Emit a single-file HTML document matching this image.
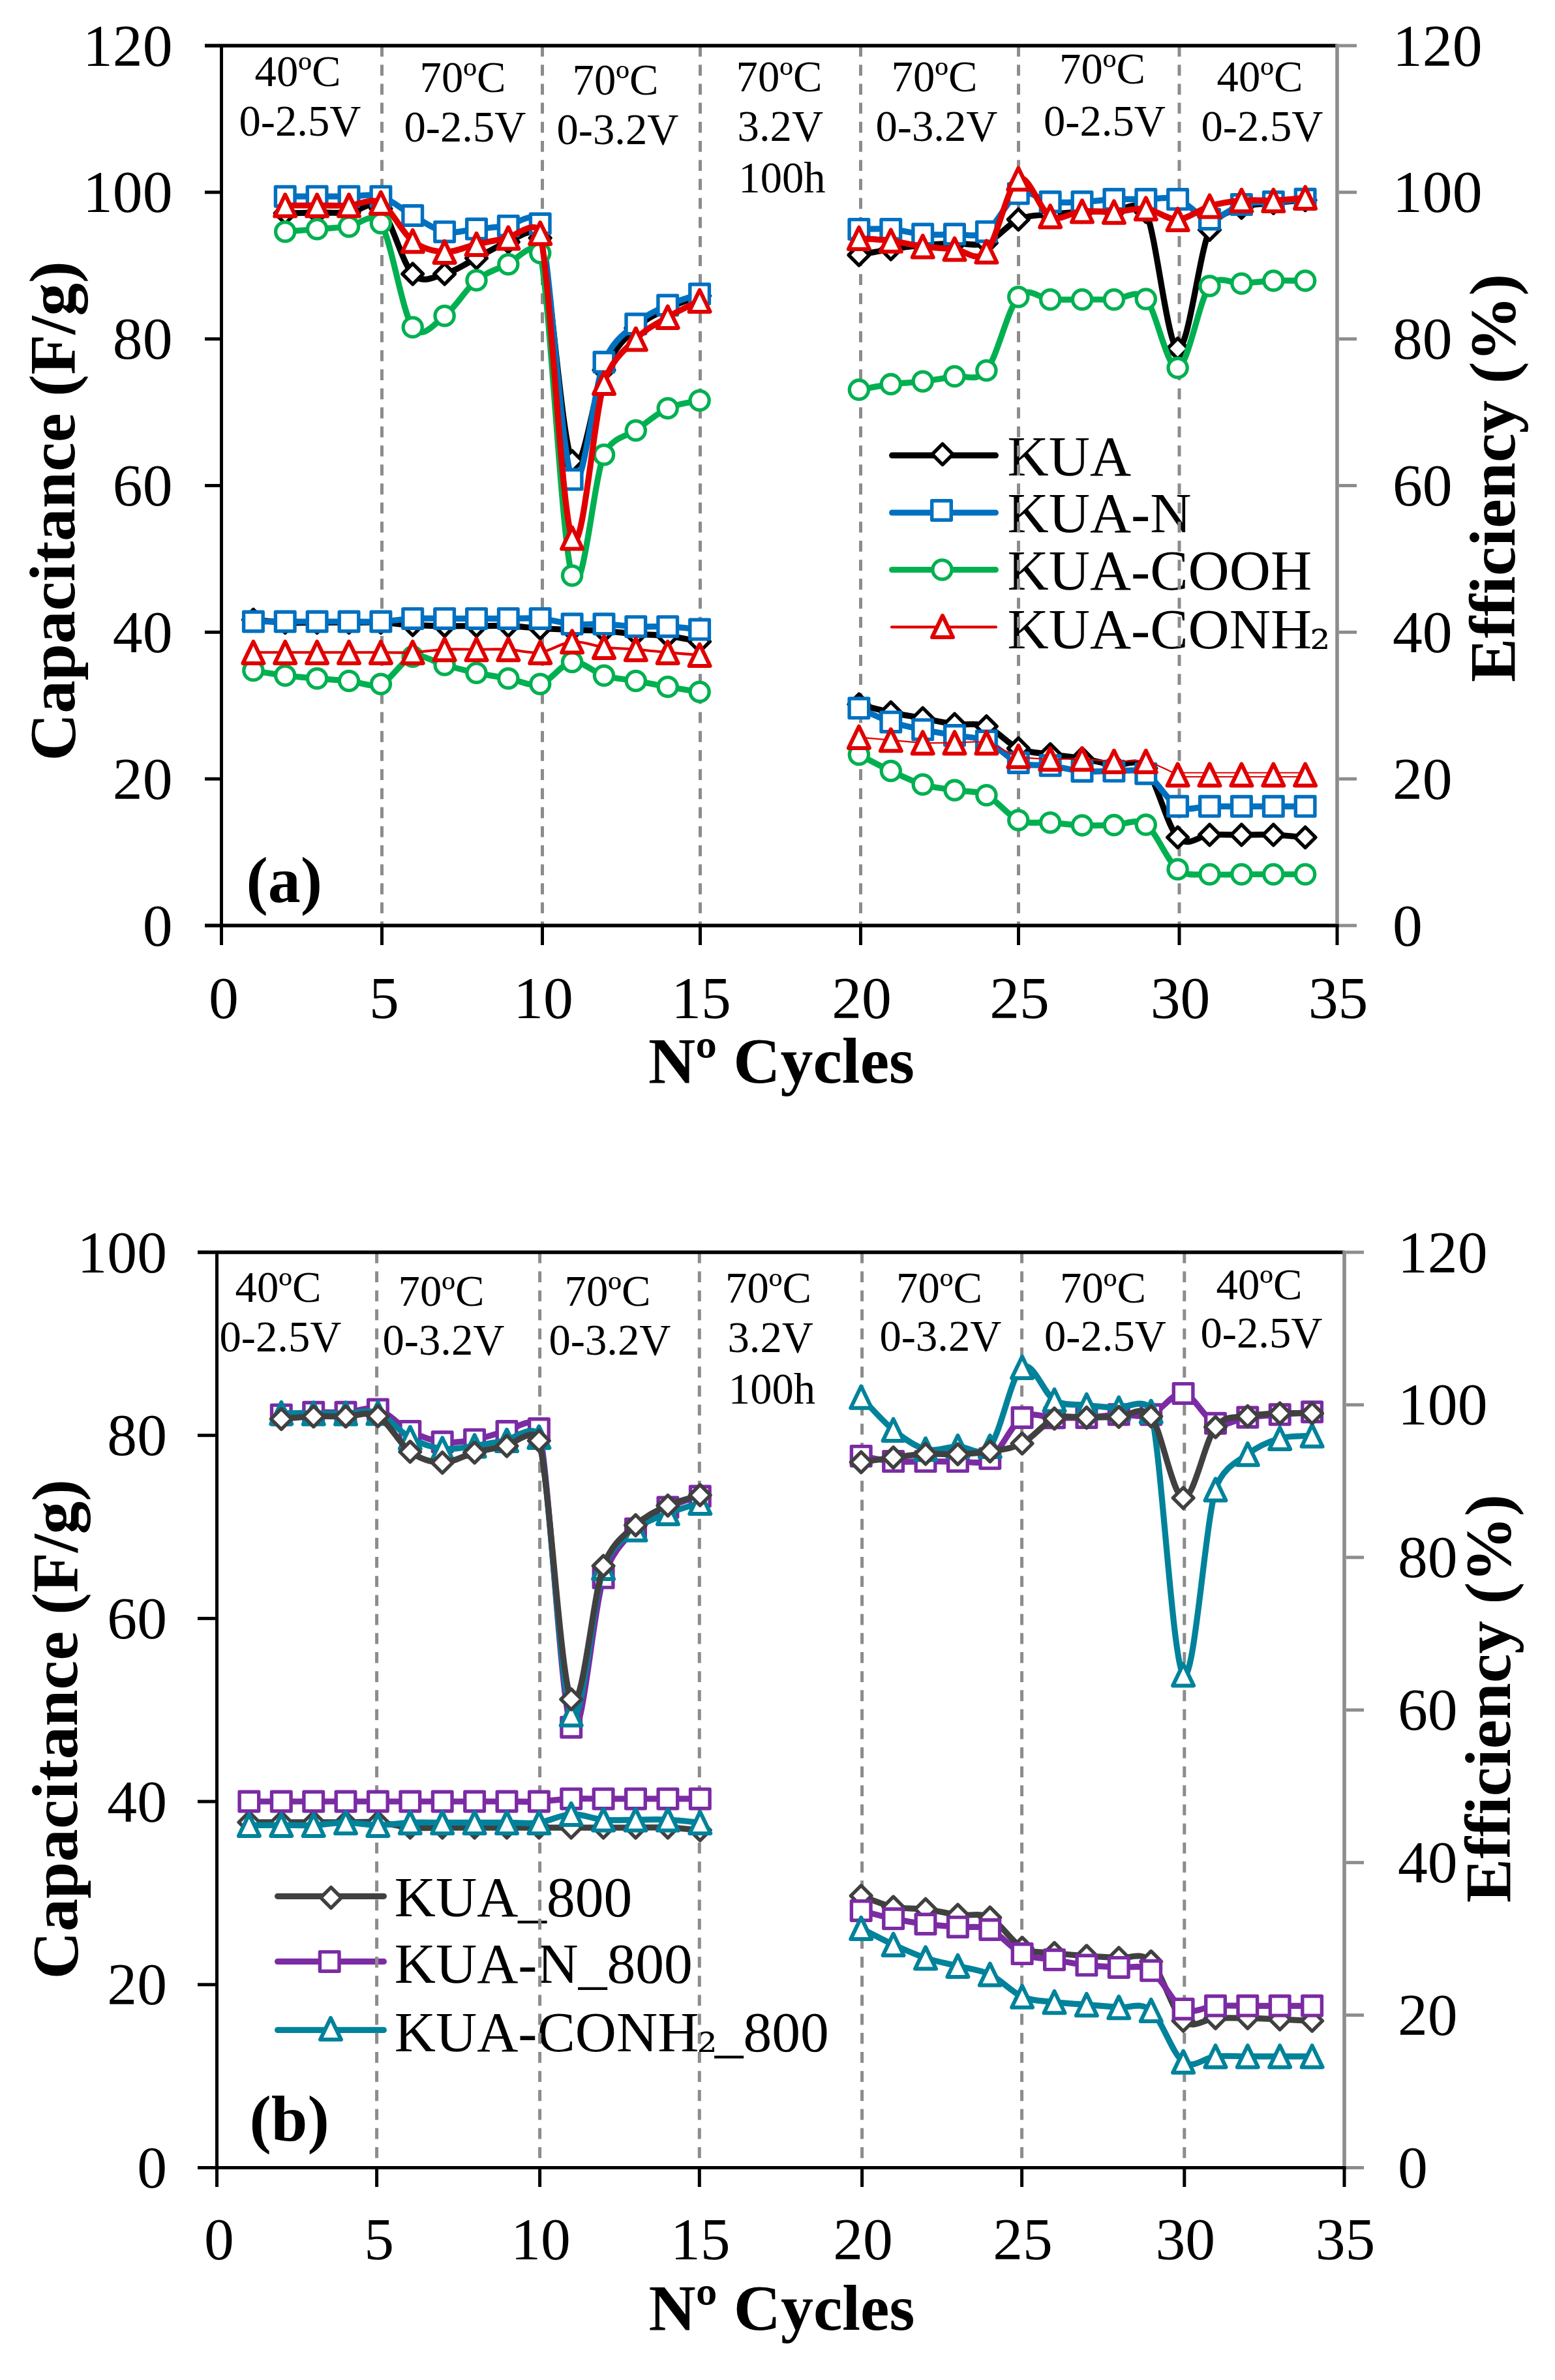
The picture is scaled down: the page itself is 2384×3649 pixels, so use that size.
<!DOCTYPE html>
<html lang="en"><head><meta charset="utf-8"><title>Capacitance and efficiency vs cycles</title>
<style>html,body{margin:0;padding:0;background:#fff}svg{display:block}text{font-family:'Liberation Serif', 'Times New Roman', serif;fill:#000}</style>
</head><body>
<svg width="2384" height="3649" viewBox="0 0 2384 3649">
<rect width="2384" height="3649" fill="#fff"/>
<g id="legend-a">
<path d="M1367.6 698.2H1526.4" stroke="#000000" stroke-width="9.2" stroke-linecap="round" fill="none"/>
<path d="M1445.0 680.7L1460.8 696.5L1445.0 712.3L1429.2 696.5Z" fill="#fff" stroke="#000000" stroke-width="5.4" stroke-linejoin="round"/>
<text x="1544.5" y="729.0" font-size="87.50" text-anchor="start">KUA</text>
<path d="M1367.6 786.0H1526.4" stroke="#0070c0" stroke-width="9.2" stroke-linecap="round" fill="none"/>
<rect x="1428.7" y="767.7" width="29.6" height="29.6" fill="#fff" stroke="#0070c0" stroke-width="5.4" stroke-linejoin="round"/>
<text x="1544.5" y="816.0" font-size="87.50" text-anchor="start">KUA-N</text>
<path d="M1367.6 873.5H1526.4" stroke="#00b050" stroke-width="9.2" stroke-linecap="round" fill="none"/>
<circle cx="1444.5" cy="873.5" r="14.6" fill="#fff" stroke="#00b050" stroke-width="5.3"/>
<text x="1544.5" y="903.6" font-size="87.50" text-anchor="start">KUA-COOH</text>
<path d="M1367.0 961.4H1527.0" stroke="#e00000" stroke-width="4.1" stroke-linecap="round" fill="none"/>
<path d="M1445.0 943.9L1461.0 977.1L1429.0 977.1Z" fill="#fff" stroke="#e00000" stroke-width="6" stroke-linejoin="round"/>
<text x="1544.5" y="994.2" font-size="87.50" text-anchor="start">KUA-CONH<tspan font-family="DejaVu Serif, serif" font-size="78" dy="1" dx="-3">₂</tspan></text>
</g>
<g stroke="#8c8c8c" stroke-width="5" stroke-dasharray="16.8 12.39" fill="none">
<path d="M585.5 70.0V1419.0"/>
<path d="M831.5 70.0V1419.0"/>
<path d="M1073.5 70.0V1419.0"/>
<path d="M1319.5 70.0V1419.0"/>
<path d="M1561.5 70.0V1419.0"/>
<path d="M1808.0 70.0V1419.0"/>
</g>
<g stroke="#000" stroke-width="5.6" fill="none">
<path d="M314.0 70.0H2050.0"/>
</g>
<path d="M314.0 1419.0H2052.8" stroke="#000" stroke-width="5.6" fill="none"/>
<g stroke="#000" stroke-width="5" fill="none">
<path d="M339.5 70.0V1449.0"/>
<path d="M585.5 1419.0V1449.0"/>
<path d="M831.5 1419.0V1449.0"/>
<path d="M1073.5 1419.0V1449.0"/>
<path d="M1319.5 1419.0V1449.0"/>
<path d="M1561.5 1419.0V1449.0"/>
<path d="M1808.0 1419.0V1449.0"/>
<path d="M2050.0 1419.0V1449.0"/>
<path d="M314.0 1194.2H339.5"/>
<path d="M314.0 969.3H339.5"/>
<path d="M314.0 744.5H339.5"/>
<path d="M314.0 519.7H339.5"/>
<path d="M314.0 294.8H339.5"/>
</g>
<g stroke="#8c8c8c" stroke-width="5.6" fill="none">
<path d="M2050.0 67.2V1416.2"/>
</g>
<g stroke="#8c8c8c" stroke-width="5" fill="none">
<path d="M2052.8 1419.0H2080.0"/>
<path d="M2052.8 1194.2H2080.0"/>
<path d="M2052.8 969.3H2080.0"/>
<path d="M2052.8 744.5H2080.0"/>
<path d="M2052.8 519.7H2080.0"/>
<path d="M2052.8 294.8H2080.0"/>
<path d="M2052.8 70.0H2080.0"/>
</g>
<text x="264.5" y="1449.5" font-size="91.67" text-anchor="end">0</text>
<text x="264.5" y="1224.7" font-size="91.67" text-anchor="end">20</text>
<text x="264.5" y="999.8" font-size="91.67" text-anchor="end">40</text>
<text x="264.5" y="775.0" font-size="91.67" text-anchor="end">60</text>
<text x="264.5" y="550.2" font-size="91.67" text-anchor="end">80</text>
<text x="264.5" y="325.3" font-size="91.67" text-anchor="end">100</text>
<text x="264.5" y="100.5" font-size="91.67" text-anchor="end">120</text>
<text x="2135.0" y="1449.5" font-size="91.67" text-anchor="start">0</text>
<text x="2135.0" y="1224.7" font-size="91.67" text-anchor="start">20</text>
<text x="2135.0" y="999.8" font-size="91.67" text-anchor="start">40</text>
<text x="2135.0" y="775.0" font-size="91.67" text-anchor="start">60</text>
<text x="2135.0" y="550.2" font-size="91.67" text-anchor="start">80</text>
<text x="2135.0" y="325.3" font-size="91.67" text-anchor="start">100</text>
<text x="2135.0" y="100.5" font-size="91.67" text-anchor="start">120</text>
<text x="343.0" y="1561.0" font-size="91.67" text-anchor="middle">0</text>
<text x="589.0" y="1561.0" font-size="91.67" text-anchor="middle">5</text>
<text x="833.0" y="1561.0" font-size="91.67" text-anchor="middle">10</text>
<text x="1075.0" y="1561.0" font-size="91.67" text-anchor="middle">15</text>
<text x="1321.0" y="1561.0" font-size="91.67" text-anchor="middle">20</text>
<text x="1563.0" y="1561.0" font-size="91.67" text-anchor="middle">25</text>
<text x="1809.5" y="1561.0" font-size="91.67" text-anchor="middle">30</text>
<text x="2051.5" y="1561.0" font-size="91.67" text-anchor="middle">35</text>
<g id="series-a">
<path d="M388.4 950.2C396.5 950.9 421.0 953.8 437.2 954.5C453.5 955.2 469.8 954.5 486.1 954.5C502.4 954.5 518.7 954.5 535.0 954.5C551.3 954.5 567.6 953.9 583.9 954.5C600.1 955.1 616.4 957.5 632.7 958.4C649.0 959.3 665.3 959.5 681.6 959.7C697.9 959.9 714.2 959.7 730.5 959.7C746.8 959.7 763.1 959.1 779.3 959.7C795.6 960.3 811.9 962.5 828.2 963.5C844.5 964.5 860.8 965.0 877.1 965.6C893.4 966.2 909.7 966.3 926.0 967.4C942.2 968.5 958.5 970.7 974.8 972.0C991.1 973.3 1007.4 973.1 1023.7 975.0C1040.0 976.9 1064.4 982.2 1072.6 983.6" fill="none" stroke="#000000" stroke-width="9.2" stroke-linecap="round" stroke-linejoin="round"/>
<path d="M1316.9 1079.9C1325.1 1082.0 1349.5 1088.7 1365.8 1092.2C1382.1 1095.8 1398.4 1098.2 1414.7 1101.2C1431.0 1104.2 1447.3 1108.1 1463.5 1110.2C1479.8 1112.3 1496.1 1107.4 1512.4 1113.6C1528.7 1119.8 1545.0 1140.3 1561.3 1147.5C1577.6 1154.7 1593.9 1154.0 1610.2 1156.5C1626.4 1159.0 1642.7 1160.0 1659.0 1162.8C1675.3 1165.5 1691.6 1170.5 1707.9 1173.0C1724.1 1175.5 1740.5 1159.6 1756.8 1178.0C1773.1 1196.5 1789.4 1266.9 1805.6 1283.9C1821.9 1300.9 1838.2 1280.7 1854.5 1280.0C1870.8 1279.3 1887.1 1280.0 1903.4 1280.0C1919.7 1280.0 1936.0 1279.3 1952.3 1280.0C1968.5 1280.7 1993.0 1283.2 2001.1 1283.9" fill="none" stroke="#000000" stroke-width="9.2" stroke-linecap="round" stroke-linejoin="round"/>
<path d="M388.4 934.4L404.2 950.2L388.4 966.0L372.6 950.2Z" fill="#fff" stroke="#000000" stroke-width="5.4" stroke-linejoin="round"/>
<path d="M437.2 938.7L453.0 954.5L437.2 970.3L421.4 954.5Z" fill="#fff" stroke="#000000" stroke-width="5.4" stroke-linejoin="round"/>
<path d="M486.1 938.7L501.9 954.5L486.1 970.3L470.3 954.5Z" fill="#fff" stroke="#000000" stroke-width="5.4" stroke-linejoin="round"/>
<path d="M535.0 938.7L550.8 954.5L535.0 970.3L519.2 954.5Z" fill="#fff" stroke="#000000" stroke-width="5.4" stroke-linejoin="round"/>
<path d="M583.9 938.7L599.7 954.5L583.9 970.3L568.1 954.5Z" fill="#fff" stroke="#000000" stroke-width="5.4" stroke-linejoin="round"/>
<path d="M632.7 942.6L648.5 958.4L632.7 974.2L616.9 958.4Z" fill="#fff" stroke="#000000" stroke-width="5.4" stroke-linejoin="round"/>
<path d="M681.6 943.9L697.4 959.7L681.6 975.5L665.8 959.7Z" fill="#fff" stroke="#000000" stroke-width="5.4" stroke-linejoin="round"/>
<path d="M730.5 943.9L746.3 959.7L730.5 975.5L714.7 959.7Z" fill="#fff" stroke="#000000" stroke-width="5.4" stroke-linejoin="round"/>
<path d="M779.3 943.9L795.1 959.7L779.3 975.5L763.5 959.7Z" fill="#fff" stroke="#000000" stroke-width="5.4" stroke-linejoin="round"/>
<path d="M828.2 947.7L844.0 963.5L828.2 979.3L812.4 963.5Z" fill="#fff" stroke="#000000" stroke-width="5.4" stroke-linejoin="round"/>
<path d="M877.1 949.8L892.9 965.6L877.1 981.4L861.3 965.6Z" fill="#fff" stroke="#000000" stroke-width="5.4" stroke-linejoin="round"/>
<path d="M926.0 951.6L941.8 967.4L926.0 983.2L910.2 967.4Z" fill="#fff" stroke="#000000" stroke-width="5.4" stroke-linejoin="round"/>
<path d="M974.8 956.2L990.6 972.0L974.8 987.8L959.0 972.0Z" fill="#fff" stroke="#000000" stroke-width="5.4" stroke-linejoin="round"/>
<path d="M1023.7 959.2L1039.5 975.0L1023.7 990.8L1007.9 975.0Z" fill="#fff" stroke="#000000" stroke-width="5.4" stroke-linejoin="round"/>
<path d="M1072.6 967.8L1088.4 983.6L1072.6 999.4L1056.8 983.6Z" fill="#fff" stroke="#000000" stroke-width="5.4" stroke-linejoin="round"/>
<path d="M1316.9 1064.1L1332.7 1079.9L1316.9 1095.7L1301.1 1079.9Z" fill="#fff" stroke="#000000" stroke-width="5.4" stroke-linejoin="round"/>
<path d="M1365.8 1076.4L1381.6 1092.2L1365.8 1108.0L1350.0 1092.2Z" fill="#fff" stroke="#000000" stroke-width="5.4" stroke-linejoin="round"/>
<path d="M1414.7 1085.4L1430.5 1101.2L1414.7 1117.0L1398.9 1101.2Z" fill="#fff" stroke="#000000" stroke-width="5.4" stroke-linejoin="round"/>
<path d="M1463.5 1094.4L1479.3 1110.2L1463.5 1126.0L1447.7 1110.2Z" fill="#fff" stroke="#000000" stroke-width="5.4" stroke-linejoin="round"/>
<path d="M1512.4 1097.8L1528.2 1113.6L1512.4 1129.4L1496.6 1113.6Z" fill="#fff" stroke="#000000" stroke-width="5.4" stroke-linejoin="round"/>
<path d="M1561.3 1131.7L1577.1 1147.5L1561.3 1163.3L1545.5 1147.5Z" fill="#fff" stroke="#000000" stroke-width="5.4" stroke-linejoin="round"/>
<path d="M1610.2 1140.7L1626.0 1156.5L1610.2 1172.3L1594.4 1156.5Z" fill="#fff" stroke="#000000" stroke-width="5.4" stroke-linejoin="round"/>
<path d="M1659.0 1147.0L1674.8 1162.8L1659.0 1178.6L1643.2 1162.8Z" fill="#fff" stroke="#000000" stroke-width="5.4" stroke-linejoin="round"/>
<path d="M1707.9 1157.2L1723.7 1173.0L1707.9 1188.8L1692.1 1173.0Z" fill="#fff" stroke="#000000" stroke-width="5.4" stroke-linejoin="round"/>
<path d="M1756.8 1162.2L1772.6 1178.0L1756.8 1193.8L1741.0 1178.0Z" fill="#fff" stroke="#000000" stroke-width="5.4" stroke-linejoin="round"/>
<path d="M1805.6 1268.1L1821.4 1283.9L1805.6 1299.7L1789.8 1283.9Z" fill="#fff" stroke="#000000" stroke-width="5.4" stroke-linejoin="round"/>
<path d="M1854.5 1264.2L1870.3 1280.0L1854.5 1295.8L1838.7 1280.0Z" fill="#fff" stroke="#000000" stroke-width="5.4" stroke-linejoin="round"/>
<path d="M1903.4 1264.2L1919.2 1280.0L1903.4 1295.8L1887.6 1280.0Z" fill="#fff" stroke="#000000" stroke-width="5.4" stroke-linejoin="round"/>
<path d="M1952.3 1264.2L1968.1 1280.0L1952.3 1295.8L1936.5 1280.0Z" fill="#fff" stroke="#000000" stroke-width="5.4" stroke-linejoin="round"/>
<path d="M2001.1 1268.1L2016.9 1283.9L2001.1 1299.7L1985.3 1283.9Z" fill="#fff" stroke="#000000" stroke-width="5.4" stroke-linejoin="round"/>
<path d="M437.2 327.0C445.4 326.8 469.8 326.2 486.1 326.0C502.4 325.8 518.7 327.0 535.0 326.0C551.3 325.0 567.6 304.3 583.9 320.0C600.1 335.7 616.4 403.3 632.7 420.0C649.0 436.7 665.3 424.0 681.6 420.0C697.9 416.0 714.2 404.0 730.5 395.8C746.8 387.6 763.1 376.1 779.3 371.0C786.2 368.8 821.3 341.3 828.2 364.9C844.5 420.9 860.8 673.2 877.1 707.0C893.4 740.8 909.7 601.4 926.0 567.4C942.2 533.4 958.5 518.7 974.8 503.0C991.1 487.3 1007.4 481.2 1023.7 473.0C1040.0 464.8 1064.4 456.8 1072.6 453.6" fill="none" stroke="#000000" stroke-width="9.2" stroke-linecap="round" stroke-linejoin="round"/>
<path d="M1316.9 391.0C1325.1 389.5 1349.5 384.5 1365.8 382.0C1382.1 379.5 1398.4 377.5 1414.7 376.0C1431.0 374.5 1447.3 373.6 1463.5 373.0C1479.8 372.4 1496.1 378.6 1512.4 372.5C1528.7 366.4 1545.0 343.8 1561.3 336.5C1577.6 329.2 1593.9 330.6 1610.2 328.7C1626.4 326.8 1642.7 325.7 1659.0 324.9C1675.3 324.1 1691.6 324.0 1707.9 324.0C1718.2 324.0 1746.5 302.7 1756.8 324.9C1773.1 360.0 1789.4 529.9 1805.6 534.5C1821.9 539.1 1838.2 388.4 1854.5 352.4C1866.8 325.3 1891.1 323.7 1903.4 318.5C1919.7 311.6 1936.0 313.2 1952.3 311.3C1968.5 309.4 1993.0 307.6 2001.1 306.9" fill="none" stroke="#000000" stroke-width="9.2" stroke-linecap="round" stroke-linejoin="round"/>
<path d="M437.2 311.2L453.0 327.0L437.2 342.8L421.4 327.0Z" fill="#fff" stroke="#000000" stroke-width="5.4" stroke-linejoin="round"/>
<path d="M486.1 310.2L501.9 326.0L486.1 341.8L470.3 326.0Z" fill="#fff" stroke="#000000" stroke-width="5.4" stroke-linejoin="round"/>
<path d="M535.0 310.2L550.8 326.0L535.0 341.8L519.2 326.0Z" fill="#fff" stroke="#000000" stroke-width="5.4" stroke-linejoin="round"/>
<path d="M583.9 304.2L599.7 320.0L583.9 335.8L568.1 320.0Z" fill="#fff" stroke="#000000" stroke-width="5.4" stroke-linejoin="round"/>
<path d="M632.7 404.2L648.5 420.0L632.7 435.8L616.9 420.0Z" fill="#fff" stroke="#000000" stroke-width="5.4" stroke-linejoin="round"/>
<path d="M681.6 404.2L697.4 420.0L681.6 435.8L665.8 420.0Z" fill="#fff" stroke="#000000" stroke-width="5.4" stroke-linejoin="round"/>
<path d="M730.5 380.0L746.3 395.8L730.5 411.6L714.7 395.8Z" fill="#fff" stroke="#000000" stroke-width="5.4" stroke-linejoin="round"/>
<path d="M779.3 355.2L795.1 371.0L779.3 386.8L763.5 371.0Z" fill="#fff" stroke="#000000" stroke-width="5.4" stroke-linejoin="round"/>
<path d="M828.2 349.1L844.0 364.9L828.2 380.7L812.4 364.9Z" fill="#fff" stroke="#000000" stroke-width="5.4" stroke-linejoin="round"/>
<path d="M877.1 691.2L892.9 707.0L877.1 722.8L861.3 707.0Z" fill="#fff" stroke="#000000" stroke-width="5.4" stroke-linejoin="round"/>
<path d="M926.0 551.6L941.8 567.4L926.0 583.2L910.2 567.4Z" fill="#fff" stroke="#000000" stroke-width="5.4" stroke-linejoin="round"/>
<path d="M974.8 487.2L990.6 503.0L974.8 518.8L959.0 503.0Z" fill="#fff" stroke="#000000" stroke-width="5.4" stroke-linejoin="round"/>
<path d="M1023.7 457.2L1039.5 473.0L1023.7 488.8L1007.9 473.0Z" fill="#fff" stroke="#000000" stroke-width="5.4" stroke-linejoin="round"/>
<path d="M1072.6 437.8L1088.4 453.6L1072.6 469.4L1056.8 453.6Z" fill="#fff" stroke="#000000" stroke-width="5.4" stroke-linejoin="round"/>
<path d="M1316.9 375.2L1332.7 391.0L1316.9 406.8L1301.1 391.0Z" fill="#fff" stroke="#000000" stroke-width="5.4" stroke-linejoin="round"/>
<path d="M1365.8 366.2L1381.6 382.0L1365.8 397.8L1350.0 382.0Z" fill="#fff" stroke="#000000" stroke-width="5.4" stroke-linejoin="round"/>
<path d="M1414.7 360.2L1430.5 376.0L1414.7 391.8L1398.9 376.0Z" fill="#fff" stroke="#000000" stroke-width="5.4" stroke-linejoin="round"/>
<path d="M1463.5 357.2L1479.3 373.0L1463.5 388.8L1447.7 373.0Z" fill="#fff" stroke="#000000" stroke-width="5.4" stroke-linejoin="round"/>
<path d="M1512.4 356.7L1528.2 372.5L1512.4 388.3L1496.6 372.5Z" fill="#fff" stroke="#000000" stroke-width="5.4" stroke-linejoin="round"/>
<path d="M1561.3 320.7L1577.1 336.5L1561.3 352.3L1545.5 336.5Z" fill="#fff" stroke="#000000" stroke-width="5.4" stroke-linejoin="round"/>
<path d="M1610.2 312.9L1626.0 328.7L1610.2 344.5L1594.4 328.7Z" fill="#fff" stroke="#000000" stroke-width="5.4" stroke-linejoin="round"/>
<path d="M1659.0 309.1L1674.8 324.9L1659.0 340.7L1643.2 324.9Z" fill="#fff" stroke="#000000" stroke-width="5.4" stroke-linejoin="round"/>
<path d="M1707.9 308.2L1723.7 324.0L1707.9 339.8L1692.1 324.0Z" fill="#fff" stroke="#000000" stroke-width="5.4" stroke-linejoin="round"/>
<path d="M1756.8 309.1L1772.6 324.9L1756.8 340.7L1741.0 324.9Z" fill="#fff" stroke="#000000" stroke-width="5.4" stroke-linejoin="round"/>
<path d="M1805.6 518.7L1821.4 534.5L1805.6 550.3L1789.8 534.5Z" fill="#fff" stroke="#000000" stroke-width="5.4" stroke-linejoin="round"/>
<path d="M1854.5 336.6L1870.3 352.4L1854.5 368.2L1838.7 352.4Z" fill="#fff" stroke="#000000" stroke-width="5.4" stroke-linejoin="round"/>
<path d="M1903.4 302.7L1919.2 318.5L1903.4 334.3L1887.6 318.5Z" fill="#fff" stroke="#000000" stroke-width="5.4" stroke-linejoin="round"/>
<path d="M1952.3 295.5L1968.1 311.3L1952.3 327.1L1936.5 311.3Z" fill="#fff" stroke="#000000" stroke-width="5.4" stroke-linejoin="round"/>
<path d="M2001.1 291.1L2016.9 306.9L2001.1 322.7L1985.3 306.9Z" fill="#fff" stroke="#000000" stroke-width="5.4" stroke-linejoin="round"/>
<path d="M388.4 953.0C396.5 953.0 421.0 953.0 437.2 953.0C453.5 953.0 469.8 953.0 486.1 953.0C502.4 953.0 518.7 953.0 535.0 953.0C551.3 953.0 567.6 953.8 583.9 953.0C600.1 952.2 616.4 949.2 632.7 948.4C649.0 947.6 665.3 948.4 681.6 948.4C697.9 948.4 714.2 948.4 730.5 948.4C746.8 948.4 763.1 948.4 779.3 948.4C795.6 948.4 811.9 947.0 828.2 948.4C844.5 949.8 860.8 955.4 877.1 956.8C893.4 958.2 909.7 956.1 926.0 956.8C942.2 957.4 958.5 960.1 974.8 960.7C991.1 961.4 1007.4 960.0 1023.7 960.7C1040.0 961.4 1064.4 964.4 1072.6 965.1" fill="none" stroke="#0070c0" stroke-width="9.2" stroke-linecap="round" stroke-linejoin="round"/>
<path d="M1316.9 1085.8C1325.1 1089.3 1349.5 1101.4 1365.8 1106.9C1382.1 1112.4 1398.4 1115.3 1414.7 1118.7C1431.0 1122.1 1447.3 1124.6 1463.5 1127.5C1479.8 1130.4 1496.1 1129.0 1512.4 1136.0C1528.7 1143.0 1545.0 1163.1 1561.3 1169.4C1577.6 1175.7 1593.9 1171.6 1610.2 1173.8C1626.4 1176.0 1642.7 1181.1 1659.0 1182.5C1675.3 1183.9 1691.6 1181.7 1707.9 1182.3C1724.2 1182.9 1740.5 1177.2 1756.8 1186.2C1773.1 1195.2 1789.4 1228.0 1805.6 1236.3C1821.9 1244.6 1838.2 1236.3 1854.5 1236.3C1870.8 1236.3 1887.1 1236.3 1903.4 1236.3C1919.7 1236.3 1936.0 1236.3 1952.3 1236.3C1968.5 1236.3 1993.0 1236.3 2001.1 1236.3" fill="none" stroke="#0070c0" stroke-width="9.2" stroke-linecap="round" stroke-linejoin="round"/>
<rect x="373.6" y="938.2" width="29.6" height="29.6" fill="#fff" stroke="#0070c0" stroke-width="5.4" stroke-linejoin="round"/>
<rect x="422.4" y="938.2" width="29.6" height="29.6" fill="#fff" stroke="#0070c0" stroke-width="5.4" stroke-linejoin="round"/>
<rect x="471.3" y="938.2" width="29.6" height="29.6" fill="#fff" stroke="#0070c0" stroke-width="5.4" stroke-linejoin="round"/>
<rect x="520.2" y="938.2" width="29.6" height="29.6" fill="#fff" stroke="#0070c0" stroke-width="5.4" stroke-linejoin="round"/>
<rect x="569.1" y="938.2" width="29.6" height="29.6" fill="#fff" stroke="#0070c0" stroke-width="5.4" stroke-linejoin="round"/>
<rect x="617.9" y="933.6" width="29.6" height="29.6" fill="#fff" stroke="#0070c0" stroke-width="5.4" stroke-linejoin="round"/>
<rect x="666.8" y="933.6" width="29.6" height="29.6" fill="#fff" stroke="#0070c0" stroke-width="5.4" stroke-linejoin="round"/>
<rect x="715.7" y="933.6" width="29.6" height="29.6" fill="#fff" stroke="#0070c0" stroke-width="5.4" stroke-linejoin="round"/>
<rect x="764.5" y="933.6" width="29.6" height="29.6" fill="#fff" stroke="#0070c0" stroke-width="5.4" stroke-linejoin="round"/>
<rect x="813.4" y="933.6" width="29.6" height="29.6" fill="#fff" stroke="#0070c0" stroke-width="5.4" stroke-linejoin="round"/>
<rect x="862.3" y="942.0" width="29.6" height="29.6" fill="#fff" stroke="#0070c0" stroke-width="5.4" stroke-linejoin="round"/>
<rect x="911.2" y="942.0" width="29.6" height="29.6" fill="#fff" stroke="#0070c0" stroke-width="5.4" stroke-linejoin="round"/>
<rect x="960.0" y="945.9" width="29.6" height="29.6" fill="#fff" stroke="#0070c0" stroke-width="5.4" stroke-linejoin="round"/>
<rect x="1008.9" y="945.9" width="29.6" height="29.6" fill="#fff" stroke="#0070c0" stroke-width="5.4" stroke-linejoin="round"/>
<rect x="1057.8" y="950.3" width="29.6" height="29.6" fill="#fff" stroke="#0070c0" stroke-width="5.4" stroke-linejoin="round"/>
<rect x="1302.1" y="1071.0" width="29.6" height="29.6" fill="#fff" stroke="#0070c0" stroke-width="5.4" stroke-linejoin="round"/>
<rect x="1351.0" y="1092.1" width="29.6" height="29.6" fill="#fff" stroke="#0070c0" stroke-width="5.4" stroke-linejoin="round"/>
<rect x="1399.9" y="1103.9" width="29.6" height="29.6" fill="#fff" stroke="#0070c0" stroke-width="5.4" stroke-linejoin="round"/>
<rect x="1448.7" y="1112.7" width="29.6" height="29.6" fill="#fff" stroke="#0070c0" stroke-width="5.4" stroke-linejoin="round"/>
<rect x="1497.6" y="1121.2" width="29.6" height="29.6" fill="#fff" stroke="#0070c0" stroke-width="5.4" stroke-linejoin="round"/>
<rect x="1546.5" y="1154.6" width="29.6" height="29.6" fill="#fff" stroke="#0070c0" stroke-width="5.4" stroke-linejoin="round"/>
<rect x="1595.4" y="1159.0" width="29.6" height="29.6" fill="#fff" stroke="#0070c0" stroke-width="5.4" stroke-linejoin="round"/>
<rect x="1644.2" y="1167.7" width="29.6" height="29.6" fill="#fff" stroke="#0070c0" stroke-width="5.4" stroke-linejoin="round"/>
<rect x="1693.1" y="1167.5" width="29.6" height="29.6" fill="#fff" stroke="#0070c0" stroke-width="5.4" stroke-linejoin="round"/>
<rect x="1742.0" y="1171.4" width="29.6" height="29.6" fill="#fff" stroke="#0070c0" stroke-width="5.4" stroke-linejoin="round"/>
<rect x="1790.8" y="1221.5" width="29.6" height="29.6" fill="#fff" stroke="#0070c0" stroke-width="5.4" stroke-linejoin="round"/>
<rect x="1839.7" y="1221.5" width="29.6" height="29.6" fill="#fff" stroke="#0070c0" stroke-width="5.4" stroke-linejoin="round"/>
<rect x="1888.6" y="1221.5" width="29.6" height="29.6" fill="#fff" stroke="#0070c0" stroke-width="5.4" stroke-linejoin="round"/>
<rect x="1937.5" y="1221.5" width="29.6" height="29.6" fill="#fff" stroke="#0070c0" stroke-width="5.4" stroke-linejoin="round"/>
<rect x="1986.3" y="1221.5" width="29.6" height="29.6" fill="#fff" stroke="#0070c0" stroke-width="5.4" stroke-linejoin="round"/>
<path d="M437.2 301.2C445.4 301.2 469.8 301.2 486.1 301.2C502.4 301.2 518.7 301.2 535.0 301.2C551.3 301.2 567.6 296.3 583.9 301.2C600.1 306.1 616.4 321.5 632.7 330.5C649.0 339.5 665.3 352.0 681.6 355.4C697.9 358.8 714.2 352.6 730.5 351.1C746.8 349.6 763.1 347.8 779.3 346.4C785.3 345.9 822.2 319.2 828.2 343.0C844.5 407.8 860.8 699.7 877.1 735.1C893.4 770.5 909.7 595.0 926.0 555.3C940.4 520.0 960.4 509.7 974.8 496.8C991.1 482.2 1007.4 475.7 1023.7 468.0C1040.0 460.3 1064.4 453.7 1072.6 450.8" fill="none" stroke="#0070c0" stroke-width="9.2" stroke-linecap="round" stroke-linejoin="round"/>
<path d="M1316.9 351.4C1325.1 351.4 1349.5 350.1 1365.8 351.4C1382.1 352.7 1398.4 357.8 1414.7 359.1C1431.0 360.4 1447.3 359.8 1463.5 359.1C1479.8 358.5 1496.1 365.6 1512.4 355.2C1528.7 344.8 1545.0 304.4 1561.3 296.8C1577.6 289.2 1593.9 307.4 1610.2 309.5C1626.4 311.6 1642.7 310.1 1659.0 309.5C1675.3 308.9 1691.6 306.2 1707.9 305.6C1724.2 305.0 1740.5 305.6 1756.8 305.6C1773.1 305.6 1789.4 300.5 1805.6 305.6C1821.9 310.7 1838.2 334.7 1854.5 336.0C1870.8 337.3 1887.1 318.0 1903.4 313.6C1919.7 309.2 1936.0 310.9 1952.3 309.5C1968.5 308.1 1993.0 306.0 2001.1 305.3" fill="none" stroke="#0070c0" stroke-width="9.2" stroke-linecap="round" stroke-linejoin="round"/>
<rect x="422.4" y="286.4" width="29.6" height="29.6" fill="#fff" stroke="#0070c0" stroke-width="5.4" stroke-linejoin="round"/>
<rect x="471.3" y="286.4" width="29.6" height="29.6" fill="#fff" stroke="#0070c0" stroke-width="5.4" stroke-linejoin="round"/>
<rect x="520.2" y="286.4" width="29.6" height="29.6" fill="#fff" stroke="#0070c0" stroke-width="5.4" stroke-linejoin="round"/>
<rect x="569.1" y="286.4" width="29.6" height="29.6" fill="#fff" stroke="#0070c0" stroke-width="5.4" stroke-linejoin="round"/>
<rect x="617.9" y="315.7" width="29.6" height="29.6" fill="#fff" stroke="#0070c0" stroke-width="5.4" stroke-linejoin="round"/>
<rect x="666.8" y="340.6" width="29.6" height="29.6" fill="#fff" stroke="#0070c0" stroke-width="5.4" stroke-linejoin="round"/>
<rect x="715.7" y="336.3" width="29.6" height="29.6" fill="#fff" stroke="#0070c0" stroke-width="5.4" stroke-linejoin="round"/>
<rect x="764.5" y="331.6" width="29.6" height="29.6" fill="#fff" stroke="#0070c0" stroke-width="5.4" stroke-linejoin="round"/>
<rect x="813.4" y="328.2" width="29.6" height="29.6" fill="#fff" stroke="#0070c0" stroke-width="5.4" stroke-linejoin="round"/>
<rect x="862.3" y="720.3" width="29.6" height="29.6" fill="#fff" stroke="#0070c0" stroke-width="5.4" stroke-linejoin="round"/>
<rect x="911.2" y="540.5" width="29.6" height="29.6" fill="#fff" stroke="#0070c0" stroke-width="5.4" stroke-linejoin="round"/>
<rect x="960.0" y="482.0" width="29.6" height="29.6" fill="#fff" stroke="#0070c0" stroke-width="5.4" stroke-linejoin="round"/>
<rect x="1008.9" y="453.2" width="29.6" height="29.6" fill="#fff" stroke="#0070c0" stroke-width="5.4" stroke-linejoin="round"/>
<rect x="1057.8" y="436.0" width="29.6" height="29.6" fill="#fff" stroke="#0070c0" stroke-width="5.4" stroke-linejoin="round"/>
<rect x="1302.1" y="336.6" width="29.6" height="29.6" fill="#fff" stroke="#0070c0" stroke-width="5.4" stroke-linejoin="round"/>
<rect x="1351.0" y="336.6" width="29.6" height="29.6" fill="#fff" stroke="#0070c0" stroke-width="5.4" stroke-linejoin="round"/>
<rect x="1399.9" y="344.3" width="29.6" height="29.6" fill="#fff" stroke="#0070c0" stroke-width="5.4" stroke-linejoin="round"/>
<rect x="1448.7" y="344.3" width="29.6" height="29.6" fill="#fff" stroke="#0070c0" stroke-width="5.4" stroke-linejoin="round"/>
<rect x="1497.6" y="340.4" width="29.6" height="29.6" fill="#fff" stroke="#0070c0" stroke-width="5.4" stroke-linejoin="round"/>
<rect x="1546.5" y="282.0" width="29.6" height="29.6" fill="#fff" stroke="#0070c0" stroke-width="5.4" stroke-linejoin="round"/>
<rect x="1595.4" y="294.7" width="29.6" height="29.6" fill="#fff" stroke="#0070c0" stroke-width="5.4" stroke-linejoin="round"/>
<rect x="1644.2" y="294.7" width="29.6" height="29.6" fill="#fff" stroke="#0070c0" stroke-width="5.4" stroke-linejoin="round"/>
<rect x="1693.1" y="290.8" width="29.6" height="29.6" fill="#fff" stroke="#0070c0" stroke-width="5.4" stroke-linejoin="round"/>
<rect x="1742.0" y="290.8" width="29.6" height="29.6" fill="#fff" stroke="#0070c0" stroke-width="5.4" stroke-linejoin="round"/>
<rect x="1790.8" y="290.8" width="29.6" height="29.6" fill="#fff" stroke="#0070c0" stroke-width="5.4" stroke-linejoin="round"/>
<rect x="1839.7" y="321.2" width="29.6" height="29.6" fill="#fff" stroke="#0070c0" stroke-width="5.4" stroke-linejoin="round"/>
<rect x="1888.6" y="298.8" width="29.6" height="29.6" fill="#fff" stroke="#0070c0" stroke-width="5.4" stroke-linejoin="round"/>
<rect x="1937.5" y="294.7" width="29.6" height="29.6" fill="#fff" stroke="#0070c0" stroke-width="5.4" stroke-linejoin="round"/>
<rect x="1986.3" y="290.5" width="29.6" height="29.6" fill="#fff" stroke="#0070c0" stroke-width="5.4" stroke-linejoin="round"/>
<path d="M388.4 1028.1C396.5 1029.4 421.0 1033.8 437.2 1035.8C453.5 1037.8 469.8 1038.8 486.1 1040.2C502.4 1041.6 518.7 1042.6 535.0 1044.0C551.3 1045.4 567.6 1054.9 583.9 1048.7C600.1 1042.5 616.4 1011.6 632.7 1006.8C649.0 1001.9 665.3 1015.5 681.6 1019.6C697.9 1023.8 714.2 1028.3 730.5 1031.7C746.8 1035.1 763.1 1037.4 779.3 1040.2C795.6 1043.0 811.9 1052.9 828.2 1048.7C844.5 1044.5 860.8 1017.1 877.1 1015.0C893.4 1012.9 909.7 1031.0 926.0 1035.8C942.2 1040.6 958.5 1041.1 974.8 1044.0C991.1 1046.9 1007.4 1050.2 1023.7 1053.0C1040.0 1055.8 1064.4 1059.5 1072.6 1060.8" fill="none" stroke="#00b050" stroke-width="9.2" stroke-linecap="round" stroke-linejoin="round"/>
<path d="M1316.9 1157.0C1325.1 1161.2 1349.5 1174.4 1365.8 1182.0C1382.1 1189.6 1398.4 1197.9 1414.7 1202.8C1431.0 1207.7 1447.3 1208.8 1463.5 1211.6C1479.8 1214.3 1496.1 1211.7 1512.4 1219.3C1528.7 1226.9 1545.0 1250.4 1561.3 1257.4C1577.6 1264.4 1593.9 1259.9 1610.2 1261.2C1626.4 1262.5 1642.7 1264.8 1659.0 1265.4C1675.3 1266.1 1691.6 1265.2 1707.9 1265.1C1724.2 1265.0 1740.5 1253.3 1756.8 1264.6C1773.1 1275.9 1789.4 1320.1 1805.6 1332.8C1821.9 1345.5 1838.2 1339.2 1854.5 1340.5C1870.8 1341.8 1887.1 1340.5 1903.4 1340.5C1919.7 1340.5 1936.0 1340.5 1952.3 1340.5C1968.5 1340.5 1993.0 1340.5 2001.1 1340.5" fill="none" stroke="#00b050" stroke-width="9.2" stroke-linecap="round" stroke-linejoin="round"/>
<circle cx="388.4" cy="1028.1" r="14.6" fill="#fff" stroke="#00b050" stroke-width="5.3"/>
<circle cx="437.2" cy="1035.8" r="14.6" fill="#fff" stroke="#00b050" stroke-width="5.3"/>
<circle cx="486.1" cy="1040.2" r="14.6" fill="#fff" stroke="#00b050" stroke-width="5.3"/>
<circle cx="535.0" cy="1044.0" r="14.6" fill="#fff" stroke="#00b050" stroke-width="5.3"/>
<circle cx="583.9" cy="1048.7" r="14.6" fill="#fff" stroke="#00b050" stroke-width="5.3"/>
<circle cx="632.7" cy="1006.8" r="14.6" fill="#fff" stroke="#00b050" stroke-width="5.3"/>
<circle cx="681.6" cy="1019.6" r="14.6" fill="#fff" stroke="#00b050" stroke-width="5.3"/>
<circle cx="730.5" cy="1031.7" r="14.6" fill="#fff" stroke="#00b050" stroke-width="5.3"/>
<circle cx="779.3" cy="1040.2" r="14.6" fill="#fff" stroke="#00b050" stroke-width="5.3"/>
<circle cx="828.2" cy="1048.7" r="14.6" fill="#fff" stroke="#00b050" stroke-width="5.3"/>
<circle cx="877.1" cy="1015.0" r="14.6" fill="#fff" stroke="#00b050" stroke-width="5.3"/>
<circle cx="926.0" cy="1035.8" r="14.6" fill="#fff" stroke="#00b050" stroke-width="5.3"/>
<circle cx="974.8" cy="1044.0" r="14.6" fill="#fff" stroke="#00b050" stroke-width="5.3"/>
<circle cx="1023.7" cy="1053.0" r="14.6" fill="#fff" stroke="#00b050" stroke-width="5.3"/>
<circle cx="1072.6" cy="1060.8" r="14.6" fill="#fff" stroke="#00b050" stroke-width="5.3"/>
<circle cx="1316.9" cy="1157.0" r="14.6" fill="#fff" stroke="#00b050" stroke-width="5.3"/>
<circle cx="1365.8" cy="1182.0" r="14.6" fill="#fff" stroke="#00b050" stroke-width="5.3"/>
<circle cx="1414.7" cy="1202.8" r="14.6" fill="#fff" stroke="#00b050" stroke-width="5.3"/>
<circle cx="1463.5" cy="1211.6" r="14.6" fill="#fff" stroke="#00b050" stroke-width="5.3"/>
<circle cx="1512.4" cy="1219.3" r="14.6" fill="#fff" stroke="#00b050" stroke-width="5.3"/>
<circle cx="1561.3" cy="1257.4" r="14.6" fill="#fff" stroke="#00b050" stroke-width="5.3"/>
<circle cx="1610.2" cy="1261.2" r="14.6" fill="#fff" stroke="#00b050" stroke-width="5.3"/>
<circle cx="1659.0" cy="1265.4" r="14.6" fill="#fff" stroke="#00b050" stroke-width="5.3"/>
<circle cx="1707.9" cy="1265.1" r="14.6" fill="#fff" stroke="#00b050" stroke-width="5.3"/>
<circle cx="1756.8" cy="1264.6" r="14.6" fill="#fff" stroke="#00b050" stroke-width="5.3"/>
<circle cx="1805.6" cy="1332.8" r="14.6" fill="#fff" stroke="#00b050" stroke-width="5.3"/>
<circle cx="1854.5" cy="1340.5" r="14.6" fill="#fff" stroke="#00b050" stroke-width="5.3"/>
<circle cx="1903.4" cy="1340.5" r="14.6" fill="#fff" stroke="#00b050" stroke-width="5.3"/>
<circle cx="1952.3" cy="1340.5" r="14.6" fill="#fff" stroke="#00b050" stroke-width="5.3"/>
<circle cx="2001.1" cy="1340.5" r="14.6" fill="#fff" stroke="#00b050" stroke-width="5.3"/>
<path d="M437.2 355.2C445.4 354.6 469.8 352.6 486.1 351.3C502.4 350.0 518.7 349.0 535.0 347.5C548.1 346.3 570.7 321.5 583.9 342.3C600.1 368.0 616.4 478.1 632.7 501.8C647.4 523.2 666.9 495.1 681.6 484.3C697.9 472.3 714.2 443.0 730.5 429.8C746.8 416.6 763.1 412.3 779.3 405.3C784.5 403.1 823.0 362.6 828.2 388.0C844.5 467.5 860.8 831.0 877.1 882.5C893.4 934.0 909.7 734.4 926.0 697.3C938.3 669.2 962.5 669.0 974.8 660.0C991.1 648.1 1007.4 633.7 1023.7 626.0C1040.0 618.3 1064.4 616.0 1072.6 614.0" fill="none" stroke="#00b050" stroke-width="9.2" stroke-linecap="round" stroke-linejoin="round"/>
<path d="M1316.9 597.6C1325.1 596.2 1349.5 591.2 1365.8 589.1C1382.1 587.0 1398.4 586.7 1414.7 584.7C1431.0 582.7 1447.3 579.8 1463.5 577.0C1479.1 574.3 1496.9 587.4 1512.4 568.0C1528.7 547.7 1545.0 473.4 1561.3 455.3C1577.6 437.2 1593.9 458.6 1610.2 459.2C1626.4 459.8 1642.7 459.2 1659.0 459.2C1675.3 459.2 1691.6 459.3 1707.9 459.2C1724.2 459.1 1740.5 441.0 1756.8 458.5C1773.1 476.0 1789.4 567.4 1805.6 564.1C1821.9 560.8 1838.2 460.2 1854.5 438.6C1869.3 419.0 1888.6 435.9 1903.4 434.7C1919.7 433.3 1936.0 431.1 1952.3 430.4C1968.5 429.7 1993.0 430.4 2001.1 430.4" fill="none" stroke="#00b050" stroke-width="9.2" stroke-linecap="round" stroke-linejoin="round"/>
<circle cx="437.2" cy="355.2" r="14.6" fill="#fff" stroke="#00b050" stroke-width="5.3"/>
<circle cx="486.1" cy="351.3" r="14.6" fill="#fff" stroke="#00b050" stroke-width="5.3"/>
<circle cx="535.0" cy="347.5" r="14.6" fill="#fff" stroke="#00b050" stroke-width="5.3"/>
<circle cx="583.9" cy="342.3" r="14.6" fill="#fff" stroke="#00b050" stroke-width="5.3"/>
<circle cx="632.7" cy="501.8" r="14.6" fill="#fff" stroke="#00b050" stroke-width="5.3"/>
<circle cx="681.6" cy="484.3" r="14.6" fill="#fff" stroke="#00b050" stroke-width="5.3"/>
<circle cx="730.5" cy="429.8" r="14.6" fill="#fff" stroke="#00b050" stroke-width="5.3"/>
<circle cx="779.3" cy="405.3" r="14.6" fill="#fff" stroke="#00b050" stroke-width="5.3"/>
<circle cx="828.2" cy="388.0" r="14.6" fill="#fff" stroke="#00b050" stroke-width="5.3"/>
<circle cx="877.1" cy="882.5" r="14.6" fill="#fff" stroke="#00b050" stroke-width="5.3"/>
<circle cx="926.0" cy="697.3" r="14.6" fill="#fff" stroke="#00b050" stroke-width="5.3"/>
<circle cx="974.8" cy="660.0" r="14.6" fill="#fff" stroke="#00b050" stroke-width="5.3"/>
<circle cx="1023.7" cy="626.0" r="14.6" fill="#fff" stroke="#00b050" stroke-width="5.3"/>
<circle cx="1072.6" cy="614.0" r="14.6" fill="#fff" stroke="#00b050" stroke-width="5.3"/>
<circle cx="1316.9" cy="597.6" r="14.6" fill="#fff" stroke="#00b050" stroke-width="5.3"/>
<circle cx="1365.8" cy="589.1" r="14.6" fill="#fff" stroke="#00b050" stroke-width="5.3"/>
<circle cx="1414.7" cy="584.7" r="14.6" fill="#fff" stroke="#00b050" stroke-width="5.3"/>
<circle cx="1463.5" cy="577.0" r="14.6" fill="#fff" stroke="#00b050" stroke-width="5.3"/>
<circle cx="1512.4" cy="568.0" r="14.6" fill="#fff" stroke="#00b050" stroke-width="5.3"/>
<circle cx="1561.3" cy="455.3" r="14.6" fill="#fff" stroke="#00b050" stroke-width="5.3"/>
<circle cx="1610.2" cy="459.2" r="14.6" fill="#fff" stroke="#00b050" stroke-width="5.3"/>
<circle cx="1659.0" cy="459.2" r="14.6" fill="#fff" stroke="#00b050" stroke-width="5.3"/>
<circle cx="1707.9" cy="459.2" r="14.6" fill="#fff" stroke="#00b050" stroke-width="5.3"/>
<circle cx="1756.8" cy="458.5" r="14.6" fill="#fff" stroke="#00b050" stroke-width="5.3"/>
<circle cx="1805.6" cy="564.1" r="14.6" fill="#fff" stroke="#00b050" stroke-width="5.3"/>
<circle cx="1854.5" cy="438.6" r="14.6" fill="#fff" stroke="#00b050" stroke-width="5.3"/>
<circle cx="1903.4" cy="434.7" r="14.6" fill="#fff" stroke="#00b050" stroke-width="5.3"/>
<circle cx="1952.3" cy="430.4" r="14.6" fill="#fff" stroke="#00b050" stroke-width="5.3"/>
<circle cx="2001.1" cy="430.4" r="14.6" fill="#fff" stroke="#00b050" stroke-width="5.3"/>
<path d="M388.4 1000.3C396.5 1000.3 421.0 1000.3 437.2 1000.3C453.5 1000.3 469.8 1000.3 486.1 1000.3C502.4 1000.3 518.7 1000.3 535.0 1000.3C551.3 1000.3 567.6 1000.3 583.9 1000.3C600.1 1000.3 616.4 1001.1 632.7 1000.3C649.0 999.5 665.3 996.5 681.6 995.7C697.9 994.9 714.2 995.7 730.5 995.7C746.8 995.7 763.1 994.9 779.3 995.7C795.6 996.5 811.9 1002.3 828.2 1000.3C844.5 998.3 860.8 985.2 877.1 983.9C893.4 982.6 909.7 990.3 926.0 992.3C942.2 994.3 958.5 994.4 974.8 995.7C991.1 997.0 1007.4 998.8 1023.7 1000.3C1040.0 1001.8 1064.4 1003.7 1072.6 1004.4" fill="none" stroke="#e00000" stroke-width="4.1" stroke-linecap="round" stroke-linejoin="round"/>
<path d="M1316.9 1130.3C1325.1 1131.0 1349.5 1133.3 1365.8 1134.7C1382.1 1136.1 1398.4 1138.1 1414.7 1138.8C1431.0 1139.5 1447.3 1138.8 1463.5 1138.8C1479.8 1138.8 1496.1 1135.3 1512.4 1138.8C1528.7 1142.3 1545.0 1155.4 1561.3 1159.6C1577.6 1163.8 1593.9 1163.0 1610.2 1163.7C1626.4 1164.4 1642.7 1163.1 1659.0 1163.7C1675.3 1164.3 1691.6 1166.8 1707.9 1167.4C1724.2 1168.0 1740.5 1164.0 1756.8 1167.4C1773.1 1170.8 1797.5 1184.6 1805.6 1188.0" fill="none" stroke="#e00000" stroke-width="2.2" stroke-linecap="round" stroke-linejoin="round"/>
<path d="M1805.6 1184.8H2001.1" stroke="#e00000" stroke-width="2" fill="none"/>
<path d="M1805.6 1191.0H2001.1" stroke="#e00000" stroke-width="2" fill="none"/>
<path d="M388.4 983.7L404.4 1016.9L372.4 1016.9Z" fill="#fff" stroke="#e00000" stroke-width="6" stroke-linejoin="round"/>
<path d="M437.2 983.7L453.2 1016.9L421.2 1016.9Z" fill="#fff" stroke="#e00000" stroke-width="6" stroke-linejoin="round"/>
<path d="M486.1 983.7L502.1 1016.9L470.1 1016.9Z" fill="#fff" stroke="#e00000" stroke-width="6" stroke-linejoin="round"/>
<path d="M535.0 983.7L551.0 1016.9L519.0 1016.9Z" fill="#fff" stroke="#e00000" stroke-width="6" stroke-linejoin="round"/>
<path d="M583.9 983.7L599.9 1016.9L567.9 1016.9Z" fill="#fff" stroke="#e00000" stroke-width="6" stroke-linejoin="round"/>
<path d="M632.7 983.7L648.7 1016.9L616.7 1016.9Z" fill="#fff" stroke="#e00000" stroke-width="6" stroke-linejoin="round"/>
<path d="M681.6 979.1L697.6 1012.3L665.6 1012.3Z" fill="#fff" stroke="#e00000" stroke-width="6" stroke-linejoin="round"/>
<path d="M730.5 979.1L746.5 1012.3L714.5 1012.3Z" fill="#fff" stroke="#e00000" stroke-width="6" stroke-linejoin="round"/>
<path d="M779.3 979.1L795.3 1012.3L763.3 1012.3Z" fill="#fff" stroke="#e00000" stroke-width="6" stroke-linejoin="round"/>
<path d="M828.2 983.7L844.2 1016.9L812.2 1016.9Z" fill="#fff" stroke="#e00000" stroke-width="6" stroke-linejoin="round"/>
<path d="M877.1 967.3L893.1 1000.5L861.1 1000.5Z" fill="#fff" stroke="#e00000" stroke-width="6" stroke-linejoin="round"/>
<path d="M926.0 975.7L942.0 1008.9L910.0 1008.9Z" fill="#fff" stroke="#e00000" stroke-width="6" stroke-linejoin="round"/>
<path d="M974.8 979.1L990.8 1012.3L958.8 1012.3Z" fill="#fff" stroke="#e00000" stroke-width="6" stroke-linejoin="round"/>
<path d="M1023.7 983.7L1039.7 1016.9L1007.7 1016.9Z" fill="#fff" stroke="#e00000" stroke-width="6" stroke-linejoin="round"/>
<path d="M1072.6 987.8L1088.6 1021.0L1056.6 1021.0Z" fill="#fff" stroke="#e00000" stroke-width="6" stroke-linejoin="round"/>
<path d="M1316.9 1113.7L1332.9 1146.9L1300.9 1146.9Z" fill="#fff" stroke="#e00000" stroke-width="6" stroke-linejoin="round"/>
<path d="M1365.8 1118.1L1381.8 1151.3L1349.8 1151.3Z" fill="#fff" stroke="#e00000" stroke-width="6" stroke-linejoin="round"/>
<path d="M1414.7 1122.2L1430.7 1155.4L1398.7 1155.4Z" fill="#fff" stroke="#e00000" stroke-width="6" stroke-linejoin="round"/>
<path d="M1463.5 1122.2L1479.5 1155.4L1447.5 1155.4Z" fill="#fff" stroke="#e00000" stroke-width="6" stroke-linejoin="round"/>
<path d="M1512.4 1122.2L1528.4 1155.4L1496.4 1155.4Z" fill="#fff" stroke="#e00000" stroke-width="6" stroke-linejoin="round"/>
<path d="M1561.3 1143.0L1577.3 1176.2L1545.3 1176.2Z" fill="#fff" stroke="#e00000" stroke-width="6" stroke-linejoin="round"/>
<path d="M1610.2 1147.1L1626.2 1180.3L1594.2 1180.3Z" fill="#fff" stroke="#e00000" stroke-width="6" stroke-linejoin="round"/>
<path d="M1659.0 1147.1L1675.0 1180.3L1643.0 1180.3Z" fill="#fff" stroke="#e00000" stroke-width="6" stroke-linejoin="round"/>
<path d="M1707.9 1150.8L1723.9 1184.0L1691.9 1184.0Z" fill="#fff" stroke="#e00000" stroke-width="6" stroke-linejoin="round"/>
<path d="M1756.8 1150.8L1772.8 1184.0L1740.8 1184.0Z" fill="#fff" stroke="#e00000" stroke-width="6" stroke-linejoin="round"/>
<path d="M1805.6 1171.4L1821.6 1204.6L1789.6 1204.6Z" fill="#fff" stroke="#e00000" stroke-width="6" stroke-linejoin="round"/>
<path d="M1854.5 1171.4L1870.5 1204.6L1838.5 1204.6Z" fill="#fff" stroke="#e00000" stroke-width="6" stroke-linejoin="round"/>
<path d="M1903.4 1171.4L1919.4 1204.6L1887.4 1204.6Z" fill="#fff" stroke="#e00000" stroke-width="6" stroke-linejoin="round"/>
<path d="M1952.3 1171.4L1968.3 1204.6L1936.3 1204.6Z" fill="#fff" stroke="#e00000" stroke-width="6" stroke-linejoin="round"/>
<path d="M2001.1 1171.4L2017.1 1204.6L1985.1 1204.6Z" fill="#fff" stroke="#e00000" stroke-width="6" stroke-linejoin="round"/>
<path d="M437.2 315.0C445.4 315.0 469.8 315.0 486.1 315.0C502.4 315.0 518.7 315.6 535.0 315.0C551.3 314.4 567.6 302.1 583.9 311.2C600.1 320.3 616.4 357.1 632.7 369.6C649.0 382.1 665.3 385.5 681.6 386.3C697.9 387.1 714.2 378.1 730.5 374.5C746.8 370.9 763.1 367.8 779.3 365.0C784.5 364.1 823.1 333.5 828.2 357.7C844.5 434.4 860.8 786.7 877.1 825.0C893.4 863.3 909.7 638.3 926.0 587.5C938.7 547.8 962.1 533.2 974.8 520.0C991.1 503.1 1007.4 496.1 1023.7 486.3C1040.0 476.5 1064.4 465.5 1072.6 461.3" fill="none" stroke="#e00000" stroke-width="9.2" stroke-linecap="round" stroke-linejoin="round"/>
<path d="M1316.9 365.3C1325.1 365.9 1349.5 367.0 1365.8 369.1C1382.1 371.2 1398.4 375.8 1414.7 377.9C1431.0 380.0 1447.3 380.7 1463.5 382.0C1479.8 383.3 1496.1 403.9 1512.4 385.9C1528.7 367.9 1545.0 283.2 1561.3 274.2C1577.6 265.2 1593.9 323.5 1610.2 331.8C1626.4 340.1 1642.7 325.0 1659.0 323.9C1675.3 322.8 1691.6 325.8 1707.9 325.1C1724.2 324.5 1740.5 318.1 1756.8 320.0C1773.1 321.9 1789.4 337.1 1805.6 336.5C1821.9 335.9 1838.2 321.0 1854.5 316.1C1870.8 311.2 1887.1 308.8 1903.4 307.4C1919.7 305.9 1936.0 308.1 1952.3 307.4C1968.5 306.7 1993.0 304.0 2001.1 303.3" fill="none" stroke="#e00000" stroke-width="9.2" stroke-linecap="round" stroke-linejoin="round"/>
<path d="M437.2 298.4L453.2 331.6L421.2 331.6Z" fill="#fff" stroke="#e00000" stroke-width="6" stroke-linejoin="round"/>
<path d="M486.1 298.4L502.1 331.6L470.1 331.6Z" fill="#fff" stroke="#e00000" stroke-width="6" stroke-linejoin="round"/>
<path d="M535.0 298.4L551.0 331.6L519.0 331.6Z" fill="#fff" stroke="#e00000" stroke-width="6" stroke-linejoin="round"/>
<path d="M583.9 294.6L599.9 327.8L567.9 327.8Z" fill="#fff" stroke="#e00000" stroke-width="6" stroke-linejoin="round"/>
<path d="M632.7 353.0L648.7 386.2L616.7 386.2Z" fill="#fff" stroke="#e00000" stroke-width="6" stroke-linejoin="round"/>
<path d="M681.6 369.7L697.6 402.9L665.6 402.9Z" fill="#fff" stroke="#e00000" stroke-width="6" stroke-linejoin="round"/>
<path d="M730.5 357.9L746.5 391.1L714.5 391.1Z" fill="#fff" stroke="#e00000" stroke-width="6" stroke-linejoin="round"/>
<path d="M779.3 348.4L795.3 381.6L763.3 381.6Z" fill="#fff" stroke="#e00000" stroke-width="6" stroke-linejoin="round"/>
<path d="M828.2 341.1L844.2 374.3L812.2 374.3Z" fill="#fff" stroke="#e00000" stroke-width="6" stroke-linejoin="round"/>
<path d="M877.1 808.4L893.1 841.6L861.1 841.6Z" fill="#fff" stroke="#e00000" stroke-width="6" stroke-linejoin="round"/>
<path d="M926.0 570.9L942.0 604.1L910.0 604.1Z" fill="#fff" stroke="#e00000" stroke-width="6" stroke-linejoin="round"/>
<path d="M974.8 503.4L990.8 536.6L958.8 536.6Z" fill="#fff" stroke="#e00000" stroke-width="6" stroke-linejoin="round"/>
<path d="M1023.7 469.7L1039.7 502.9L1007.7 502.9Z" fill="#fff" stroke="#e00000" stroke-width="6" stroke-linejoin="round"/>
<path d="M1072.6 444.7L1088.6 477.9L1056.6 477.9Z" fill="#fff" stroke="#e00000" stroke-width="6" stroke-linejoin="round"/>
<path d="M1316.9 348.7L1332.9 381.9L1300.9 381.9Z" fill="#fff" stroke="#e00000" stroke-width="6" stroke-linejoin="round"/>
<path d="M1365.8 352.5L1381.8 385.7L1349.8 385.7Z" fill="#fff" stroke="#e00000" stroke-width="6" stroke-linejoin="round"/>
<path d="M1414.7 361.3L1430.7 394.5L1398.7 394.5Z" fill="#fff" stroke="#e00000" stroke-width="6" stroke-linejoin="round"/>
<path d="M1463.5 365.4L1479.5 398.6L1447.5 398.6Z" fill="#fff" stroke="#e00000" stroke-width="6" stroke-linejoin="round"/>
<path d="M1512.4 369.3L1528.4 402.5L1496.4 402.5Z" fill="#fff" stroke="#e00000" stroke-width="6" stroke-linejoin="round"/>
<path d="M1561.3 257.6L1577.3 290.8L1545.3 290.8Z" fill="#fff" stroke="#e00000" stroke-width="6" stroke-linejoin="round"/>
<path d="M1610.2 315.2L1626.2 348.4L1594.2 348.4Z" fill="#fff" stroke="#e00000" stroke-width="6" stroke-linejoin="round"/>
<path d="M1659.0 307.3L1675.0 340.5L1643.0 340.5Z" fill="#fff" stroke="#e00000" stroke-width="6" stroke-linejoin="round"/>
<path d="M1707.9 308.5L1723.9 341.7L1691.9 341.7Z" fill="#fff" stroke="#e00000" stroke-width="6" stroke-linejoin="round"/>
<path d="M1756.8 303.4L1772.8 336.6L1740.8 336.6Z" fill="#fff" stroke="#e00000" stroke-width="6" stroke-linejoin="round"/>
<path d="M1805.6 319.9L1821.6 353.1L1789.6 353.1Z" fill="#fff" stroke="#e00000" stroke-width="6" stroke-linejoin="round"/>
<path d="M1854.5 299.5L1870.5 332.7L1838.5 332.7Z" fill="#fff" stroke="#e00000" stroke-width="6" stroke-linejoin="round"/>
<path d="M1903.4 290.8L1919.4 324.0L1887.4 324.0Z" fill="#fff" stroke="#e00000" stroke-width="6" stroke-linejoin="round"/>
<path d="M1952.3 290.8L1968.3 324.0L1936.3 324.0Z" fill="#fff" stroke="#e00000" stroke-width="6" stroke-linejoin="round"/>
<path d="M2001.1 286.7L2017.1 319.9L1985.1 319.9Z" fill="#fff" stroke="#e00000" stroke-width="6" stroke-linejoin="round"/>
</g>
<text x="456.5" y="132.3" font-size="66.67" text-anchor="middle">40ºC</text>
<text x="460.0" y="208.3" font-size="66.67" text-anchor="middle">0-2.5V</text>
<text x="709.5" y="141.0" font-size="66.67" text-anchor="middle">70ºC</text>
<text x="713.0" y="217.0" font-size="66.67" text-anchor="middle">0-2.5V</text>
<text x="943.5" y="145.1" font-size="66.67" text-anchor="middle">70ºC</text>
<text x="947.0" y="221.1" font-size="66.67" text-anchor="middle">0-3.2V</text>
<text x="1194.5" y="140.3" font-size="66.67" text-anchor="middle">70ºC</text>
<text x="1196.3" y="215.6" font-size="66.67" text-anchor="middle">3.2V</text>
<text x="1199.0" y="295.2" font-size="66.67" text-anchor="middle">100h</text>
<text x="1432.5" y="140.0" font-size="66.67" text-anchor="middle">70ºC</text>
<text x="1436.0" y="216.0" font-size="66.67" text-anchor="middle">0-3.2V</text>
<text x="1690.0" y="128.0" font-size="66.67" text-anchor="middle">70ºC</text>
<text x="1693.5" y="208.0" font-size="66.67" text-anchor="middle">0-2.5V</text>
<text x="1931.5" y="140.0" font-size="66.67" text-anchor="middle">40ºC</text>
<text x="1935.0" y="216.0" font-size="66.67" text-anchor="middle">0-2.5V</text>
<text x="377.5" y="1383.0" font-size="100.00" text-anchor="start" font-weight="bold">(a)</text>
<text x="1198.0" y="1659.5" font-size="100.00" text-anchor="middle" font-weight="bold">Nº Cycles</text>
<text transform="translate(113.5 783.6) rotate(-90) scale(1.011 1)" font-size="100.00" text-anchor="middle" font-weight="bold">Capacitance (F/g)</text>
<text transform="translate(2322.0 732.9) rotate(-90) scale(1.011 1)" font-size="100.00" text-anchor="middle" font-weight="bold">Efficiency (%)</text>
<g id="legend-b">
<path d="M425.6 2907.3H588.4" stroke="#404040" stroke-width="9.2" stroke-linecap="round" fill="none"/>
<path d="M507.5 2893.7L523.3 2909.5L507.5 2925.3L491.7 2909.5Z" fill="#fff" stroke="#404040" stroke-width="5.4" stroke-linejoin="round"/>
<text x="604.8" y="2938.0" font-size="87.50" text-anchor="start">KUA_800</text>
<path d="M425.6 3007.4H588.4" stroke="#7b2ba3" stroke-width="9.2" stroke-linecap="round" fill="none"/>
<rect x="490.4" y="2992.6" width="29.6" height="29.6" fill="#fff" stroke="#7b2ba3" stroke-width="5.4" stroke-linejoin="round"/>
<text x="604.8" y="3039.8" font-size="87.50" text-anchor="start">KUA-N_800</text>
<path d="M425.6 3112.4H588.4" stroke="#00829b" stroke-width="9.2" stroke-linecap="round" fill="none"/>
<path d="M507.0 3093.9L523.0 3127.1L491.0 3127.1Z" fill="#fff" stroke="#00829b" stroke-width="6" stroke-linejoin="round"/>
<text x="604.8" y="3145.3" font-size="87.50" text-anchor="start">KUA-CONH<tspan font-family="DejaVu Serif, serif" font-size="78" dy="1" dx="-3">₂</tspan><tspan dy="-1" dx="-4">_800</tspan></text>
</g>
<g stroke="#8c8c8c" stroke-width="5" stroke-dasharray="16.8 12.39" fill="none">
<path d="M577.6 1920.0V3323.5"/>
<path d="M827.6 1920.0V3323.5"/>
<path d="M1072.3 1920.0V3323.5"/>
<path d="M1321.6 1920.0V3323.5"/>
<path d="M1566.6 1920.0V3323.5"/>
<path d="M1815.8 1920.0V3323.5"/>
</g>
<g stroke="#000" stroke-width="5.6" fill="none">
<path d="M303.0 1920.0H2061.0"/>
</g>
<path d="M303.0 3323.5H2063.8" stroke="#000" stroke-width="4.8" fill="none"/>
<g stroke="#000" stroke-width="5" fill="none">
<path d="M332.5 1920.0V3353.0"/>
<path d="M577.6 3323.5V3353.0"/>
<path d="M827.6 3323.5V3353.0"/>
<path d="M1072.3 3323.5V3353.0"/>
<path d="M1321.6 3323.5V3353.0"/>
<path d="M1566.6 3323.5V3353.0"/>
<path d="M1815.8 3323.5V3353.0"/>
<path d="M2061.0 3323.5V3353.0"/>
<path d="M303.0 3042.8H332.5"/>
<path d="M303.0 2762.1H332.5"/>
<path d="M303.0 2481.4H332.5"/>
<path d="M303.0 2200.7H332.5"/>
</g>
<g stroke="#8c8c8c" stroke-width="5.6" fill="none">
<path d="M2061.0 1917.2V3320.7"/>
</g>
<g stroke="#8c8c8c" stroke-width="5" fill="none">
<path d="M2063.8 3323.5H2091.0"/>
<path d="M2063.8 3089.6H2091.0"/>
<path d="M2063.8 2855.7H2091.0"/>
<path d="M2063.8 2621.8H2091.0"/>
<path d="M2063.8 2387.8H2091.0"/>
<path d="M2063.8 2153.9H2091.0"/>
<path d="M2063.8 1920.0H2091.0"/>
</g>
<text x="256.0" y="3354.0" font-size="91.67" text-anchor="end">0</text>
<text x="256.0" y="3073.3" font-size="91.67" text-anchor="end">20</text>
<text x="256.0" y="2792.6" font-size="91.67" text-anchor="end">40</text>
<text x="256.0" y="2511.9" font-size="91.67" text-anchor="end">60</text>
<text x="256.0" y="2231.2" font-size="91.67" text-anchor="end">80</text>
<text x="256.0" y="1950.5" font-size="91.67" text-anchor="end">100</text>
<text x="2143.0" y="3354.0" font-size="91.67" text-anchor="start">0</text>
<text x="2143.0" y="3120.1" font-size="91.67" text-anchor="start">20</text>
<text x="2143.0" y="2886.2" font-size="91.67" text-anchor="start">40</text>
<text x="2143.0" y="2652.2" font-size="91.67" text-anchor="start">60</text>
<text x="2143.0" y="2418.3" font-size="91.67" text-anchor="start">80</text>
<text x="2143.0" y="2184.4" font-size="91.67" text-anchor="start">100</text>
<text x="2143.0" y="1950.5" font-size="91.67" text-anchor="start">120</text>
<text x="336.0" y="3463.6" font-size="91.67" text-anchor="middle">0</text>
<text x="581.1" y="3463.6" font-size="91.67" text-anchor="middle">5</text>
<text x="829.1" y="3463.6" font-size="91.67" text-anchor="middle">10</text>
<text x="1073.8" y="3463.6" font-size="91.67" text-anchor="middle">15</text>
<text x="1323.1" y="3463.6" font-size="91.67" text-anchor="middle">20</text>
<text x="1568.1" y="3463.6" font-size="91.67" text-anchor="middle">25</text>
<text x="1817.3" y="3463.6" font-size="91.67" text-anchor="middle">30</text>
<text x="2062.5" y="3463.6" font-size="91.67" text-anchor="middle">35</text>
<g id="series-b">
<path d="M381.9 2793.9C390.1 2793.9 414.8 2793.9 431.3 2793.9C447.7 2793.9 464.2 2793.9 480.7 2793.9C497.1 2793.9 513.6 2793.9 530.0 2793.9C546.5 2793.9 563.0 2792.5 579.4 2793.9C595.9 2795.3 612.4 2800.7 628.8 2802.1C645.3 2803.5 661.7 2802.1 678.2 2802.1C694.7 2802.1 711.1 2802.1 727.6 2802.1C744.0 2802.1 760.5 2802.1 777.0 2802.1C793.4 2802.1 809.9 2802.1 826.4 2802.1C842.8 2802.1 859.3 2802.1 875.7 2802.1C892.2 2802.1 908.7 2802.1 925.1 2802.1C941.6 2802.1 958.1 2802.1 974.5 2802.1C991.0 2802.1 1007.4 2801.4 1023.9 2802.1C1040.4 2802.8 1065.1 2805.3 1073.3 2806.0" fill="none" stroke="#404040" stroke-width="9.2" stroke-linecap="round" stroke-linejoin="round"/>
<path d="M1320.2 2906.6C1328.4 2909.5 1353.1 2920.4 1369.6 2923.8C1386.1 2927.2 1402.5 2925.1 1419.0 2927.1C1435.4 2929.1 1451.9 2933.8 1468.4 2935.9C1484.8 2938.1 1501.3 2931.6 1517.8 2940.0C1534.2 2948.4 1550.7 2977.2 1567.1 2986.3C1583.6 2995.4 1600.1 2992.4 1616.5 2994.5C1633.0 2996.6 1649.5 2997.6 1665.9 2998.8C1682.4 3000.0 1698.8 3000.5 1715.3 3001.9C1731.8 3003.3 1748.2 2991.2 1764.7 3007.3C1781.1 3023.4 1797.6 3083.8 1814.1 3098.3C1830.5 3112.8 1847.0 3094.9 1863.5 3094.2C1879.9 3093.5 1896.4 3093.9 1912.8 3094.2C1929.3 3094.5 1945.8 3095.3 1962.2 3096.0C1978.7 3096.7 2003.4 3097.9 2011.6 3098.3" fill="none" stroke="#404040" stroke-width="9.2" stroke-linecap="round" stroke-linejoin="round"/>
<path d="M381.9 2778.1L397.7 2793.9L381.9 2809.7L366.1 2793.9Z" fill="#fff" stroke="#404040" stroke-width="5.4" stroke-linejoin="round"/>
<path d="M431.3 2778.1L447.1 2793.9L431.3 2809.7L415.5 2793.9Z" fill="#fff" stroke="#404040" stroke-width="5.4" stroke-linejoin="round"/>
<path d="M480.7 2778.1L496.5 2793.9L480.7 2809.7L464.9 2793.9Z" fill="#fff" stroke="#404040" stroke-width="5.4" stroke-linejoin="round"/>
<path d="M530.0 2778.1L545.8 2793.9L530.0 2809.7L514.2 2793.9Z" fill="#fff" stroke="#404040" stroke-width="5.4" stroke-linejoin="round"/>
<path d="M579.4 2778.1L595.2 2793.9L579.4 2809.7L563.6 2793.9Z" fill="#fff" stroke="#404040" stroke-width="5.4" stroke-linejoin="round"/>
<path d="M628.8 2786.3L644.6 2802.1L628.8 2817.9L613.0 2802.1Z" fill="#fff" stroke="#404040" stroke-width="5.4" stroke-linejoin="round"/>
<path d="M678.2 2786.3L694.0 2802.1L678.2 2817.9L662.4 2802.1Z" fill="#fff" stroke="#404040" stroke-width="5.4" stroke-linejoin="round"/>
<path d="M727.6 2786.3L743.4 2802.1L727.6 2817.9L711.8 2802.1Z" fill="#fff" stroke="#404040" stroke-width="5.4" stroke-linejoin="round"/>
<path d="M777.0 2786.3L792.8 2802.1L777.0 2817.9L761.2 2802.1Z" fill="#fff" stroke="#404040" stroke-width="5.4" stroke-linejoin="round"/>
<path d="M826.4 2786.3L842.2 2802.1L826.4 2817.9L810.6 2802.1Z" fill="#fff" stroke="#404040" stroke-width="5.4" stroke-linejoin="round"/>
<path d="M875.7 2786.3L891.5 2802.1L875.7 2817.9L859.9 2802.1Z" fill="#fff" stroke="#404040" stroke-width="5.4" stroke-linejoin="round"/>
<path d="M925.1 2786.3L940.9 2802.1L925.1 2817.9L909.3 2802.1Z" fill="#fff" stroke="#404040" stroke-width="5.4" stroke-linejoin="round"/>
<path d="M974.5 2786.3L990.3 2802.1L974.5 2817.9L958.7 2802.1Z" fill="#fff" stroke="#404040" stroke-width="5.4" stroke-linejoin="round"/>
<path d="M1023.9 2786.3L1039.7 2802.1L1023.9 2817.9L1008.1 2802.1Z" fill="#fff" stroke="#404040" stroke-width="5.4" stroke-linejoin="round"/>
<path d="M1073.3 2790.2L1089.1 2806.0L1073.3 2821.8L1057.5 2806.0Z" fill="#fff" stroke="#404040" stroke-width="5.4" stroke-linejoin="round"/>
<path d="M1320.2 2890.8L1336.0 2906.6L1320.2 2922.4L1304.4 2906.6Z" fill="#fff" stroke="#404040" stroke-width="5.4" stroke-linejoin="round"/>
<path d="M1369.6 2908.0L1385.4 2923.8L1369.6 2939.6L1353.8 2923.8Z" fill="#fff" stroke="#404040" stroke-width="5.4" stroke-linejoin="round"/>
<path d="M1419.0 2911.3L1434.8 2927.1L1419.0 2942.9L1403.2 2927.1Z" fill="#fff" stroke="#404040" stroke-width="5.4" stroke-linejoin="round"/>
<path d="M1468.4 2920.1L1484.2 2935.9L1468.4 2951.7L1452.6 2935.9Z" fill="#fff" stroke="#404040" stroke-width="5.4" stroke-linejoin="round"/>
<path d="M1517.8 2924.2L1533.6 2940.0L1517.8 2955.8L1502.0 2940.0Z" fill="#fff" stroke="#404040" stroke-width="5.4" stroke-linejoin="round"/>
<path d="M1567.1 2970.5L1582.9 2986.3L1567.1 3002.1L1551.3 2986.3Z" fill="#fff" stroke="#404040" stroke-width="5.4" stroke-linejoin="round"/>
<path d="M1616.5 2978.7L1632.3 2994.5L1616.5 3010.3L1600.7 2994.5Z" fill="#fff" stroke="#404040" stroke-width="5.4" stroke-linejoin="round"/>
<path d="M1665.9 2983.0L1681.7 2998.8L1665.9 3014.6L1650.1 2998.8Z" fill="#fff" stroke="#404040" stroke-width="5.4" stroke-linejoin="round"/>
<path d="M1715.3 2986.1L1731.1 3001.9L1715.3 3017.7L1699.5 3001.9Z" fill="#fff" stroke="#404040" stroke-width="5.4" stroke-linejoin="round"/>
<path d="M1764.7 2991.5L1780.5 3007.3L1764.7 3023.1L1748.9 3007.3Z" fill="#fff" stroke="#404040" stroke-width="5.4" stroke-linejoin="round"/>
<path d="M1814.1 3082.5L1829.9 3098.3L1814.1 3114.1L1798.3 3098.3Z" fill="#fff" stroke="#404040" stroke-width="5.4" stroke-linejoin="round"/>
<path d="M1863.5 3078.4L1879.3 3094.2L1863.5 3110.0L1847.7 3094.2Z" fill="#fff" stroke="#404040" stroke-width="5.4" stroke-linejoin="round"/>
<path d="M1912.8 3078.4L1928.6 3094.2L1912.8 3110.0L1897.0 3094.2Z" fill="#fff" stroke="#404040" stroke-width="5.4" stroke-linejoin="round"/>
<path d="M1962.2 3080.2L1978.0 3096.0L1962.2 3111.8L1946.4 3096.0Z" fill="#fff" stroke="#404040" stroke-width="5.4" stroke-linejoin="round"/>
<path d="M2011.6 3082.5L2027.4 3098.3L2011.6 3114.1L1995.8 3098.3Z" fill="#fff" stroke="#404040" stroke-width="5.4" stroke-linejoin="round"/>
<path d="M381.9 2762.0C390.1 2762.0 414.8 2762.0 431.3 2762.0C447.7 2762.0 464.2 2762.0 480.7 2762.0C497.1 2762.0 513.6 2762.0 530.0 2762.0C546.5 2762.0 563.0 2762.0 579.4 2762.0C595.9 2762.0 612.4 2762.0 628.8 2762.0C645.3 2762.0 661.7 2762.0 678.2 2762.0C694.7 2762.0 711.1 2762.0 727.6 2762.0C744.0 2762.0 760.5 2762.0 777.0 2762.0C793.4 2762.0 809.9 2762.7 826.4 2762.0C842.8 2761.3 859.3 2758.6 875.7 2757.9C892.2 2757.2 908.7 2757.9 925.1 2757.9C941.6 2757.9 958.1 2757.9 974.5 2757.9C991.0 2757.9 1007.4 2757.9 1023.9 2757.9C1040.4 2757.9 1065.1 2757.9 1073.3 2757.9" fill="none" stroke="#7b2ba3" stroke-width="9.2" stroke-linecap="round" stroke-linejoin="round"/>
<path d="M1320.2 2929.5C1328.4 2931.6 1353.1 2938.4 1369.6 2941.8C1386.1 2945.2 1402.5 2947.9 1419.0 2950.0C1435.4 2952.1 1451.9 2953.0 1468.4 2954.4C1484.8 2955.8 1501.3 2951.6 1517.8 2958.5C1534.2 2965.4 1550.7 2987.9 1567.1 2995.6C1583.6 3003.3 1600.1 3001.9 1616.5 3004.8C1633.0 3007.7 1649.5 3011.2 1665.9 3013.1C1682.4 3015.0 1698.8 3015.0 1715.3 3016.4C1731.8 3017.8 1748.2 3010.7 1764.7 3021.3C1781.1 3031.9 1797.6 3071.2 1814.1 3080.2C1830.5 3089.2 1847.0 3076.1 1863.5 3075.3C1879.9 3074.5 1896.4 3075.3 1912.8 3075.3C1929.3 3075.3 1945.8 3075.3 1962.2 3075.3C1978.7 3075.3 2003.4 3075.3 2011.6 3075.3" fill="none" stroke="#7b2ba3" stroke-width="9.2" stroke-linecap="round" stroke-linejoin="round"/>
<rect x="367.1" y="2747.2" width="29.6" height="29.6" fill="#fff" stroke="#7b2ba3" stroke-width="5.4" stroke-linejoin="round"/>
<rect x="416.5" y="2747.2" width="29.6" height="29.6" fill="#fff" stroke="#7b2ba3" stroke-width="5.4" stroke-linejoin="round"/>
<rect x="465.9" y="2747.2" width="29.6" height="29.6" fill="#fff" stroke="#7b2ba3" stroke-width="5.4" stroke-linejoin="round"/>
<rect x="515.2" y="2747.2" width="29.6" height="29.6" fill="#fff" stroke="#7b2ba3" stroke-width="5.4" stroke-linejoin="round"/>
<rect x="564.6" y="2747.2" width="29.6" height="29.6" fill="#fff" stroke="#7b2ba3" stroke-width="5.4" stroke-linejoin="round"/>
<rect x="614.0" y="2747.2" width="29.6" height="29.6" fill="#fff" stroke="#7b2ba3" stroke-width="5.4" stroke-linejoin="round"/>
<rect x="663.4" y="2747.2" width="29.6" height="29.6" fill="#fff" stroke="#7b2ba3" stroke-width="5.4" stroke-linejoin="round"/>
<rect x="712.8" y="2747.2" width="29.6" height="29.6" fill="#fff" stroke="#7b2ba3" stroke-width="5.4" stroke-linejoin="round"/>
<rect x="762.2" y="2747.2" width="29.6" height="29.6" fill="#fff" stroke="#7b2ba3" stroke-width="5.4" stroke-linejoin="round"/>
<rect x="811.6" y="2747.2" width="29.6" height="29.6" fill="#fff" stroke="#7b2ba3" stroke-width="5.4" stroke-linejoin="round"/>
<rect x="860.9" y="2743.1" width="29.6" height="29.6" fill="#fff" stroke="#7b2ba3" stroke-width="5.4" stroke-linejoin="round"/>
<rect x="910.3" y="2743.1" width="29.6" height="29.6" fill="#fff" stroke="#7b2ba3" stroke-width="5.4" stroke-linejoin="round"/>
<rect x="959.7" y="2743.1" width="29.6" height="29.6" fill="#fff" stroke="#7b2ba3" stroke-width="5.4" stroke-linejoin="round"/>
<rect x="1009.1" y="2743.1" width="29.6" height="29.6" fill="#fff" stroke="#7b2ba3" stroke-width="5.4" stroke-linejoin="round"/>
<rect x="1058.5" y="2743.1" width="29.6" height="29.6" fill="#fff" stroke="#7b2ba3" stroke-width="5.4" stroke-linejoin="round"/>
<rect x="1305.4" y="2914.7" width="29.6" height="29.6" fill="#fff" stroke="#7b2ba3" stroke-width="5.4" stroke-linejoin="round"/>
<rect x="1354.8" y="2927.0" width="29.6" height="29.6" fill="#fff" stroke="#7b2ba3" stroke-width="5.4" stroke-linejoin="round"/>
<rect x="1404.2" y="2935.2" width="29.6" height="29.6" fill="#fff" stroke="#7b2ba3" stroke-width="5.4" stroke-linejoin="round"/>
<rect x="1453.6" y="2939.6" width="29.6" height="29.6" fill="#fff" stroke="#7b2ba3" stroke-width="5.4" stroke-linejoin="round"/>
<rect x="1503.0" y="2943.7" width="29.6" height="29.6" fill="#fff" stroke="#7b2ba3" stroke-width="5.4" stroke-linejoin="round"/>
<rect x="1552.3" y="2980.8" width="29.6" height="29.6" fill="#fff" stroke="#7b2ba3" stroke-width="5.4" stroke-linejoin="round"/>
<rect x="1601.7" y="2990.0" width="29.6" height="29.6" fill="#fff" stroke="#7b2ba3" stroke-width="5.4" stroke-linejoin="round"/>
<rect x="1651.1" y="2998.3" width="29.6" height="29.6" fill="#fff" stroke="#7b2ba3" stroke-width="5.4" stroke-linejoin="round"/>
<rect x="1700.5" y="3001.6" width="29.6" height="29.6" fill="#fff" stroke="#7b2ba3" stroke-width="5.4" stroke-linejoin="round"/>
<rect x="1749.9" y="3006.5" width="29.6" height="29.6" fill="#fff" stroke="#7b2ba3" stroke-width="5.4" stroke-linejoin="round"/>
<rect x="1799.3" y="3065.4" width="29.6" height="29.6" fill="#fff" stroke="#7b2ba3" stroke-width="5.4" stroke-linejoin="round"/>
<rect x="1848.7" y="3060.5" width="29.6" height="29.6" fill="#fff" stroke="#7b2ba3" stroke-width="5.4" stroke-linejoin="round"/>
<rect x="1898.0" y="3060.5" width="29.6" height="29.6" fill="#fff" stroke="#7b2ba3" stroke-width="5.4" stroke-linejoin="round"/>
<rect x="1947.4" y="3060.5" width="29.6" height="29.6" fill="#fff" stroke="#7b2ba3" stroke-width="5.4" stroke-linejoin="round"/>
<rect x="1996.8" y="3060.5" width="29.6" height="29.6" fill="#fff" stroke="#7b2ba3" stroke-width="5.4" stroke-linejoin="round"/>
<path d="M381.9 2798.3C390.1 2798.3 414.8 2798.3 431.3 2798.3C447.7 2798.3 464.2 2799.0 480.7 2798.3C497.1 2797.7 513.6 2794.4 530.0 2794.4C546.5 2794.4 563.0 2798.3 579.4 2798.3C595.9 2798.3 612.4 2795.1 628.8 2794.4C645.3 2793.8 661.7 2794.4 678.2 2794.4C694.7 2794.4 711.1 2794.4 727.6 2794.4C744.0 2794.4 760.5 2794.4 777.0 2794.4C793.4 2794.4 809.9 2796.6 826.4 2794.4C842.8 2792.2 859.3 2782.2 875.7 2781.5C892.2 2780.8 908.7 2788.6 925.1 2790.0C941.6 2791.4 958.1 2790.0 974.5 2790.0C991.0 2790.0 1007.4 2789.3 1023.9 2790.0C1040.4 2790.7 1065.1 2793.7 1073.3 2794.4" fill="none" stroke="#00829b" stroke-width="9.2" stroke-linecap="round" stroke-linejoin="round"/>
<path d="M1320.2 2956.5C1328.4 2960.7 1353.1 2973.8 1369.6 2981.4C1386.1 2989.0 1402.5 2996.5 1419.0 3002.0C1435.4 3007.5 1451.9 3010.1 1468.4 3014.3C1484.8 3018.5 1501.3 3019.4 1517.8 3027.2C1534.2 3035.0 1550.7 3054.1 1567.1 3061.2C1583.6 3068.3 1600.1 3067.5 1616.5 3069.6C1633.0 3071.7 1649.5 3072.2 1665.9 3073.6C1682.4 3074.9 1698.8 3076.2 1715.3 3077.7C1731.8 3079.1 1748.2 3068.4 1764.7 3082.3C1781.1 3096.2 1797.6 3149.4 1814.1 3161.2C1830.5 3172.9 1847.0 3154.2 1863.5 3152.8C1879.9 3151.4 1896.4 3152.8 1912.8 3152.8C1929.3 3152.8 1945.8 3152.8 1962.2 3152.8C1978.7 3152.8 2003.4 3152.8 2011.6 3152.8" fill="none" stroke="#00829b" stroke-width="9.2" stroke-linecap="round" stroke-linejoin="round"/>
<path d="M381.9 2781.7L397.9 2814.9L365.9 2814.9Z" fill="#fff" stroke="#00829b" stroke-width="6" stroke-linejoin="round"/>
<path d="M431.3 2781.7L447.3 2814.9L415.3 2814.9Z" fill="#fff" stroke="#00829b" stroke-width="6" stroke-linejoin="round"/>
<path d="M480.7 2781.7L496.7 2814.9L464.7 2814.9Z" fill="#fff" stroke="#00829b" stroke-width="6" stroke-linejoin="round"/>
<path d="M530.0 2777.8L546.0 2811.0L514.0 2811.0Z" fill="#fff" stroke="#00829b" stroke-width="6" stroke-linejoin="round"/>
<path d="M579.4 2781.7L595.4 2814.9L563.4 2814.9Z" fill="#fff" stroke="#00829b" stroke-width="6" stroke-linejoin="round"/>
<path d="M628.8 2777.8L644.8 2811.0L612.8 2811.0Z" fill="#fff" stroke="#00829b" stroke-width="6" stroke-linejoin="round"/>
<path d="M678.2 2777.8L694.2 2811.0L662.2 2811.0Z" fill="#fff" stroke="#00829b" stroke-width="6" stroke-linejoin="round"/>
<path d="M727.6 2777.8L743.6 2811.0L711.6 2811.0Z" fill="#fff" stroke="#00829b" stroke-width="6" stroke-linejoin="round"/>
<path d="M777.0 2777.8L793.0 2811.0L761.0 2811.0Z" fill="#fff" stroke="#00829b" stroke-width="6" stroke-linejoin="round"/>
<path d="M826.4 2777.8L842.4 2811.0L810.4 2811.0Z" fill="#fff" stroke="#00829b" stroke-width="6" stroke-linejoin="round"/>
<path d="M875.7 2764.9L891.7 2798.1L859.7 2798.1Z" fill="#fff" stroke="#00829b" stroke-width="6" stroke-linejoin="round"/>
<path d="M925.1 2773.4L941.1 2806.6L909.1 2806.6Z" fill="#fff" stroke="#00829b" stroke-width="6" stroke-linejoin="round"/>
<path d="M974.5 2773.4L990.5 2806.6L958.5 2806.6Z" fill="#fff" stroke="#00829b" stroke-width="6" stroke-linejoin="round"/>
<path d="M1023.9 2773.4L1039.9 2806.6L1007.9 2806.6Z" fill="#fff" stroke="#00829b" stroke-width="6" stroke-linejoin="round"/>
<path d="M1073.3 2777.8L1089.3 2811.0L1057.3 2811.0Z" fill="#fff" stroke="#00829b" stroke-width="6" stroke-linejoin="round"/>
<path d="M1320.2 2939.9L1336.2 2973.1L1304.2 2973.1Z" fill="#fff" stroke="#00829b" stroke-width="6" stroke-linejoin="round"/>
<path d="M1369.6 2964.8L1385.6 2998.0L1353.6 2998.0Z" fill="#fff" stroke="#00829b" stroke-width="6" stroke-linejoin="round"/>
<path d="M1419.0 2985.4L1435.0 3018.6L1403.0 3018.6Z" fill="#fff" stroke="#00829b" stroke-width="6" stroke-linejoin="round"/>
<path d="M1468.4 2997.7L1484.4 3030.9L1452.4 3030.9Z" fill="#fff" stroke="#00829b" stroke-width="6" stroke-linejoin="round"/>
<path d="M1517.8 3010.6L1533.8 3043.8L1501.8 3043.8Z" fill="#fff" stroke="#00829b" stroke-width="6" stroke-linejoin="round"/>
<path d="M1567.1 3044.6L1583.1 3077.8L1551.1 3077.8Z" fill="#fff" stroke="#00829b" stroke-width="6" stroke-linejoin="round"/>
<path d="M1616.5 3053.0L1632.5 3086.2L1600.5 3086.2Z" fill="#fff" stroke="#00829b" stroke-width="6" stroke-linejoin="round"/>
<path d="M1665.9 3057.0L1681.9 3090.2L1649.9 3090.2Z" fill="#fff" stroke="#00829b" stroke-width="6" stroke-linejoin="round"/>
<path d="M1715.3 3061.1L1731.3 3094.3L1699.3 3094.3Z" fill="#fff" stroke="#00829b" stroke-width="6" stroke-linejoin="round"/>
<path d="M1764.7 3065.7L1780.7 3098.9L1748.7 3098.9Z" fill="#fff" stroke="#00829b" stroke-width="6" stroke-linejoin="round"/>
<path d="M1814.1 3144.6L1830.1 3177.8L1798.1 3177.8Z" fill="#fff" stroke="#00829b" stroke-width="6" stroke-linejoin="round"/>
<path d="M1863.5 3136.2L1879.5 3169.4L1847.5 3169.4Z" fill="#fff" stroke="#00829b" stroke-width="6" stroke-linejoin="round"/>
<path d="M1912.8 3136.2L1928.8 3169.4L1896.8 3169.4Z" fill="#fff" stroke="#00829b" stroke-width="6" stroke-linejoin="round"/>
<path d="M1962.2 3136.2L1978.2 3169.4L1946.2 3169.4Z" fill="#fff" stroke="#00829b" stroke-width="6" stroke-linejoin="round"/>
<path d="M2011.6 3136.2L2027.6 3169.4L1995.6 3169.4Z" fill="#fff" stroke="#00829b" stroke-width="6" stroke-linejoin="round"/>
<path d="M431.3 2169.2C439.5 2168.5 464.2 2166.0 480.7 2165.3C497.1 2164.7 513.6 2166.0 530.0 2165.3C546.5 2164.6 563.0 2156.1 579.4 2160.9C595.9 2165.8 612.4 2186.1 628.8 2194.4C645.3 2202.7 661.7 2208.7 678.2 2210.8C694.7 2212.9 711.1 2209.9 727.6 2207.2C744.0 2204.5 760.5 2197.3 777.0 2194.5C782.2 2193.6 821.1 2166.4 826.4 2190.6C842.8 2266.2 859.3 2610.1 875.7 2648.2C892.2 2686.3 908.7 2469.8 925.1 2419.1C939.0 2376.3 960.6 2359.1 974.5 2343.9C991.0 2325.9 1007.4 2319.4 1023.9 2311.1C1040.4 2302.8 1065.1 2296.9 1073.3 2294.1" fill="none" stroke="#7b2ba3" stroke-width="9.2" stroke-linecap="round" stroke-linejoin="round"/>
<path d="M1320.2 2232.4C1328.4 2233.8 1353.1 2239.2 1369.6 2240.6C1386.1 2242.0 1402.5 2240.6 1419.0 2240.6C1435.4 2240.6 1451.9 2241.3 1468.4 2240.6C1484.8 2239.9 1501.3 2247.5 1517.8 2236.3C1534.2 2225.1 1550.7 2183.9 1567.1 2173.5C1583.6 2163.1 1600.1 2173.8 1616.5 2173.8C1633.0 2173.8 1649.5 2174.2 1665.9 2173.4C1682.4 2172.6 1698.8 2169.6 1715.3 2168.8C1731.8 2168.0 1748.2 2174.2 1764.7 2168.8C1781.1 2163.4 1797.6 2134.2 1814.1 2136.4C1830.5 2138.7 1847.0 2176.2 1863.5 2182.3C1879.9 2188.4 1896.4 2175.2 1912.8 2172.9C1929.3 2170.7 1945.8 2170.2 1962.2 2168.8C1978.7 2167.5 2003.4 2165.5 2011.6 2164.8" fill="none" stroke="#7b2ba3" stroke-width="9.2" stroke-linecap="round" stroke-linejoin="round"/>
<rect x="416.5" y="2154.4" width="29.6" height="29.6" fill="#fff" stroke="#7b2ba3" stroke-width="5.4" stroke-linejoin="round"/>
<rect x="465.9" y="2150.5" width="29.6" height="29.6" fill="#fff" stroke="#7b2ba3" stroke-width="5.4" stroke-linejoin="round"/>
<rect x="515.2" y="2150.5" width="29.6" height="29.6" fill="#fff" stroke="#7b2ba3" stroke-width="5.4" stroke-linejoin="round"/>
<rect x="564.6" y="2146.1" width="29.6" height="29.6" fill="#fff" stroke="#7b2ba3" stroke-width="5.4" stroke-linejoin="round"/>
<rect x="614.0" y="2179.6" width="29.6" height="29.6" fill="#fff" stroke="#7b2ba3" stroke-width="5.4" stroke-linejoin="round"/>
<rect x="663.4" y="2196.0" width="29.6" height="29.6" fill="#fff" stroke="#7b2ba3" stroke-width="5.4" stroke-linejoin="round"/>
<rect x="712.8" y="2192.4" width="29.6" height="29.6" fill="#fff" stroke="#7b2ba3" stroke-width="5.4" stroke-linejoin="round"/>
<rect x="762.2" y="2179.7" width="29.6" height="29.6" fill="#fff" stroke="#7b2ba3" stroke-width="5.4" stroke-linejoin="round"/>
<rect x="811.6" y="2175.8" width="29.6" height="29.6" fill="#fff" stroke="#7b2ba3" stroke-width="5.4" stroke-linejoin="round"/>
<rect x="860.9" y="2633.4" width="29.6" height="29.6" fill="#fff" stroke="#7b2ba3" stroke-width="5.4" stroke-linejoin="round"/>
<rect x="910.3" y="2404.3" width="29.6" height="29.6" fill="#fff" stroke="#7b2ba3" stroke-width="5.4" stroke-linejoin="round"/>
<rect x="959.7" y="2329.1" width="29.6" height="29.6" fill="#fff" stroke="#7b2ba3" stroke-width="5.4" stroke-linejoin="round"/>
<rect x="1009.1" y="2296.3" width="29.6" height="29.6" fill="#fff" stroke="#7b2ba3" stroke-width="5.4" stroke-linejoin="round"/>
<rect x="1058.5" y="2279.3" width="29.6" height="29.6" fill="#fff" stroke="#7b2ba3" stroke-width="5.4" stroke-linejoin="round"/>
<rect x="1305.4" y="2217.6" width="29.6" height="29.6" fill="#fff" stroke="#7b2ba3" stroke-width="5.4" stroke-linejoin="round"/>
<rect x="1354.8" y="2225.8" width="29.6" height="29.6" fill="#fff" stroke="#7b2ba3" stroke-width="5.4" stroke-linejoin="round"/>
<rect x="1404.2" y="2225.8" width="29.6" height="29.6" fill="#fff" stroke="#7b2ba3" stroke-width="5.4" stroke-linejoin="round"/>
<rect x="1453.6" y="2225.8" width="29.6" height="29.6" fill="#fff" stroke="#7b2ba3" stroke-width="5.4" stroke-linejoin="round"/>
<rect x="1503.0" y="2221.5" width="29.6" height="29.6" fill="#fff" stroke="#7b2ba3" stroke-width="5.4" stroke-linejoin="round"/>
<rect x="1552.3" y="2158.7" width="29.6" height="29.6" fill="#fff" stroke="#7b2ba3" stroke-width="5.4" stroke-linejoin="round"/>
<rect x="1601.7" y="2159.0" width="29.6" height="29.6" fill="#fff" stroke="#7b2ba3" stroke-width="5.4" stroke-linejoin="round"/>
<rect x="1651.1" y="2158.6" width="29.6" height="29.6" fill="#fff" stroke="#7b2ba3" stroke-width="5.4" stroke-linejoin="round"/>
<rect x="1700.5" y="2154.0" width="29.6" height="29.6" fill="#fff" stroke="#7b2ba3" stroke-width="5.4" stroke-linejoin="round"/>
<rect x="1749.9" y="2154.0" width="29.6" height="29.6" fill="#fff" stroke="#7b2ba3" stroke-width="5.4" stroke-linejoin="round"/>
<rect x="1799.3" y="2121.6" width="29.6" height="29.6" fill="#fff" stroke="#7b2ba3" stroke-width="5.4" stroke-linejoin="round"/>
<rect x="1848.7" y="2167.5" width="29.6" height="29.6" fill="#fff" stroke="#7b2ba3" stroke-width="5.4" stroke-linejoin="round"/>
<rect x="1898.0" y="2158.1" width="29.6" height="29.6" fill="#fff" stroke="#7b2ba3" stroke-width="5.4" stroke-linejoin="round"/>
<rect x="1947.4" y="2154.0" width="29.6" height="29.6" fill="#fff" stroke="#7b2ba3" stroke-width="5.4" stroke-linejoin="round"/>
<rect x="1996.8" y="2150.0" width="29.6" height="29.6" fill="#fff" stroke="#7b2ba3" stroke-width="5.4" stroke-linejoin="round"/>
<path d="M431.3 2166.6C439.5 2166.7 464.2 2167.0 480.7 2167.1C497.1 2167.2 513.6 2167.2 530.0 2167.1C546.5 2167.0 563.0 2160.4 579.4 2166.6C595.9 2172.8 612.4 2195.3 628.8 2204.4C645.3 2213.5 661.7 2219.0 678.2 2221.1C694.7 2223.2 711.1 2218.9 727.6 2216.8C744.0 2214.7 760.5 2210.7 777.0 2208.5C782.6 2207.7 820.7 2179.3 826.4 2203.5C842.8 2273.6 859.3 2595.3 875.7 2628.8C892.2 2662.3 908.7 2451.7 925.1 2404.4C937.8 2368.0 961.8 2356.0 974.5 2345.2C991.0 2331.2 1007.4 2327.3 1023.9 2320.5C1040.4 2313.7 1065.1 2307.1 1073.3 2304.4" fill="none" stroke="#00829b" stroke-width="9.2" stroke-linecap="round" stroke-linejoin="round"/>
<path d="M1320.2 2142.1C1328.4 2150.5 1353.1 2179.0 1369.6 2192.3C1386.1 2205.6 1402.5 2217.7 1419.0 2221.9C1435.4 2226.1 1451.9 2218.2 1468.4 2217.5C1484.0 2216.8 1502.2 2236.6 1517.8 2217.5C1534.2 2197.3 1550.7 2108.1 1567.1 2096.3C1583.6 2084.5 1600.1 2137.1 1616.5 2146.8C1633.0 2156.5 1649.5 2152.2 1665.9 2154.3C1682.4 2156.4 1698.8 2157.4 1715.3 2159.1C1721.1 2159.7 1758.9 2140.1 1764.7 2164.2C1781.1 2232.3 1797.6 2547.9 1814.1 2567.8C1830.5 2587.8 1847.0 2340.3 1863.5 2283.9C1873.7 2248.7 1902.6 2237.8 1912.8 2229.6C1929.3 2216.5 1945.8 2210.0 1962.2 2205.3C1978.7 2200.6 2003.4 2201.9 2011.6 2201.2" fill="none" stroke="#00829b" stroke-width="9.2" stroke-linecap="round" stroke-linejoin="round"/>
<path d="M431.3 2150.0L447.3 2183.2L415.3 2183.2Z" fill="#fff" stroke="#00829b" stroke-width="6" stroke-linejoin="round"/>
<path d="M480.7 2150.5L496.7 2183.7L464.7 2183.7Z" fill="#fff" stroke="#00829b" stroke-width="6" stroke-linejoin="round"/>
<path d="M530.0 2150.5L546.0 2183.7L514.0 2183.7Z" fill="#fff" stroke="#00829b" stroke-width="6" stroke-linejoin="round"/>
<path d="M579.4 2150.0L595.4 2183.2L563.4 2183.2Z" fill="#fff" stroke="#00829b" stroke-width="6" stroke-linejoin="round"/>
<path d="M628.8 2187.8L644.8 2221.0L612.8 2221.0Z" fill="#fff" stroke="#00829b" stroke-width="6" stroke-linejoin="round"/>
<path d="M678.2 2204.5L694.2 2237.7L662.2 2237.7Z" fill="#fff" stroke="#00829b" stroke-width="6" stroke-linejoin="round"/>
<path d="M727.6 2200.2L743.6 2233.4L711.6 2233.4Z" fill="#fff" stroke="#00829b" stroke-width="6" stroke-linejoin="round"/>
<path d="M777.0 2191.9L793.0 2225.1L761.0 2225.1Z" fill="#fff" stroke="#00829b" stroke-width="6" stroke-linejoin="round"/>
<path d="M826.4 2186.9L842.4 2220.1L810.4 2220.1Z" fill="#fff" stroke="#00829b" stroke-width="6" stroke-linejoin="round"/>
<path d="M875.7 2612.2L891.7 2645.4L859.7 2645.4Z" fill="#fff" stroke="#00829b" stroke-width="6" stroke-linejoin="round"/>
<path d="M925.1 2387.8L941.1 2421.0L909.1 2421.0Z" fill="#fff" stroke="#00829b" stroke-width="6" stroke-linejoin="round"/>
<path d="M974.5 2328.6L990.5 2361.8L958.5 2361.8Z" fill="#fff" stroke="#00829b" stroke-width="6" stroke-linejoin="round"/>
<path d="M1023.9 2303.9L1039.9 2337.1L1007.9 2337.1Z" fill="#fff" stroke="#00829b" stroke-width="6" stroke-linejoin="round"/>
<path d="M1073.3 2287.8L1089.3 2321.0L1057.3 2321.0Z" fill="#fff" stroke="#00829b" stroke-width="6" stroke-linejoin="round"/>
<path d="M1320.2 2125.5L1336.2 2158.7L1304.2 2158.7Z" fill="#fff" stroke="#00829b" stroke-width="6" stroke-linejoin="round"/>
<path d="M1369.6 2175.7L1385.6 2208.9L1353.6 2208.9Z" fill="#fff" stroke="#00829b" stroke-width="6" stroke-linejoin="round"/>
<path d="M1419.0 2205.3L1435.0 2238.5L1403.0 2238.5Z" fill="#fff" stroke="#00829b" stroke-width="6" stroke-linejoin="round"/>
<path d="M1468.4 2200.9L1484.4 2234.1L1452.4 2234.1Z" fill="#fff" stroke="#00829b" stroke-width="6" stroke-linejoin="round"/>
<path d="M1517.8 2200.9L1533.8 2234.1L1501.8 2234.1Z" fill="#fff" stroke="#00829b" stroke-width="6" stroke-linejoin="round"/>
<path d="M1567.1 2079.7L1583.1 2112.9L1551.1 2112.9Z" fill="#fff" stroke="#00829b" stroke-width="6" stroke-linejoin="round"/>
<path d="M1616.5 2130.2L1632.5 2163.4L1600.5 2163.4Z" fill="#fff" stroke="#00829b" stroke-width="6" stroke-linejoin="round"/>
<path d="M1665.9 2137.7L1681.9 2170.9L1649.9 2170.9Z" fill="#fff" stroke="#00829b" stroke-width="6" stroke-linejoin="round"/>
<path d="M1715.3 2142.5L1731.3 2175.7L1699.3 2175.7Z" fill="#fff" stroke="#00829b" stroke-width="6" stroke-linejoin="round"/>
<path d="M1764.7 2147.6L1780.7 2180.8L1748.7 2180.8Z" fill="#fff" stroke="#00829b" stroke-width="6" stroke-linejoin="round"/>
<path d="M1814.1 2551.2L1830.1 2584.4L1798.1 2584.4Z" fill="#fff" stroke="#00829b" stroke-width="6" stroke-linejoin="round"/>
<path d="M1863.5 2267.3L1879.5 2300.5L1847.5 2300.5Z" fill="#fff" stroke="#00829b" stroke-width="6" stroke-linejoin="round"/>
<path d="M1912.8 2213.0L1928.8 2246.2L1896.8 2246.2Z" fill="#fff" stroke="#00829b" stroke-width="6" stroke-linejoin="round"/>
<path d="M1962.2 2188.7L1978.2 2221.9L1946.2 2221.9Z" fill="#fff" stroke="#00829b" stroke-width="6" stroke-linejoin="round"/>
<path d="M2011.6 2184.6L2027.6 2217.8L1995.6 2217.8Z" fill="#fff" stroke="#00829b" stroke-width="6" stroke-linejoin="round"/>
<path d="M431.3 2175.6C439.5 2174.9 464.2 2172.3 480.7 2171.7C497.1 2171.0 513.6 2171.8 530.0 2171.7C546.5 2171.6 563.0 2162.2 579.4 2171.2C595.9 2180.2 612.4 2213.9 628.8 2225.8C645.3 2237.7 661.7 2242.3 678.2 2242.5C694.7 2242.7 711.1 2231.2 727.6 2227.0C744.0 2222.8 760.5 2220.0 777.0 2217.0C783.1 2215.9 820.2 2184.6 826.4 2208.9C842.8 2273.6 859.3 2573.4 875.7 2605.4C892.2 2637.4 908.7 2445.4 925.1 2400.9C938.9 2363.6 960.7 2351.4 974.5 2338.5C991.0 2323.1 1007.4 2316.1 1023.9 2308.4C1040.4 2300.7 1065.1 2295.0 1073.3 2292.3" fill="none" stroke="#404040" stroke-width="9.2" stroke-linecap="round" stroke-linejoin="round"/>
<path d="M1320.2 2241.9C1328.4 2240.7 1353.1 2236.8 1369.6 2234.7C1386.1 2232.6 1402.5 2229.9 1419.0 2229.1C1435.4 2228.2 1451.9 2230.2 1468.4 2229.6C1484.8 2228.9 1501.3 2227.9 1517.8 2225.2C1534.2 2222.4 1550.7 2221.5 1567.1 2213.1C1583.6 2204.7 1600.1 2181.6 1616.5 2175.0C1633.0 2168.4 1649.5 2173.9 1665.9 2173.5C1682.4 2173.1 1698.8 2172.6 1715.3 2172.3C1730.7 2172.0 1749.3 2152.2 1764.7 2171.5C1781.1 2192.2 1797.6 2293.8 1814.1 2296.6C1830.5 2299.3 1847.0 2208.8 1863.5 2188.0C1879.6 2167.6 1896.7 2174.9 1912.8 2171.5C1929.3 2168.0 1945.8 2167.7 1962.2 2166.9C1978.7 2166.1 2003.4 2166.9 2011.6 2166.9" fill="none" stroke="#404040" stroke-width="9.2" stroke-linecap="round" stroke-linejoin="round"/>
<path d="M431.3 2159.8L447.1 2175.6L431.3 2191.4L415.5 2175.6Z" fill="#fff" stroke="#404040" stroke-width="5.4" stroke-linejoin="round"/>
<path d="M480.7 2155.9L496.5 2171.7L480.7 2187.5L464.9 2171.7Z" fill="#fff" stroke="#404040" stroke-width="5.4" stroke-linejoin="round"/>
<path d="M530.0 2155.9L545.8 2171.7L530.0 2187.5L514.2 2171.7Z" fill="#fff" stroke="#404040" stroke-width="5.4" stroke-linejoin="round"/>
<path d="M579.4 2155.4L595.2 2171.2L579.4 2187.0L563.6 2171.2Z" fill="#fff" stroke="#404040" stroke-width="5.4" stroke-linejoin="round"/>
<path d="M628.8 2210.0L644.6 2225.8L628.8 2241.6L613.0 2225.8Z" fill="#fff" stroke="#404040" stroke-width="5.4" stroke-linejoin="round"/>
<path d="M678.2 2226.7L694.0 2242.5L678.2 2258.3L662.4 2242.5Z" fill="#fff" stroke="#404040" stroke-width="5.4" stroke-linejoin="round"/>
<path d="M727.6 2211.2L743.4 2227.0L727.6 2242.8L711.8 2227.0Z" fill="#fff" stroke="#404040" stroke-width="5.4" stroke-linejoin="round"/>
<path d="M777.0 2201.2L792.8 2217.0L777.0 2232.8L761.2 2217.0Z" fill="#fff" stroke="#404040" stroke-width="5.4" stroke-linejoin="round"/>
<path d="M826.4 2193.1L842.2 2208.9L826.4 2224.7L810.6 2208.9Z" fill="#fff" stroke="#404040" stroke-width="5.4" stroke-linejoin="round"/>
<path d="M875.7 2589.6L891.5 2605.4L875.7 2621.2L859.9 2605.4Z" fill="#fff" stroke="#404040" stroke-width="5.4" stroke-linejoin="round"/>
<path d="M925.1 2385.1L940.9 2400.9L925.1 2416.7L909.3 2400.9Z" fill="#fff" stroke="#404040" stroke-width="5.4" stroke-linejoin="round"/>
<path d="M974.5 2322.7L990.3 2338.5L974.5 2354.3L958.7 2338.5Z" fill="#fff" stroke="#404040" stroke-width="5.4" stroke-linejoin="round"/>
<path d="M1023.9 2292.6L1039.7 2308.4L1023.9 2324.2L1008.1 2308.4Z" fill="#fff" stroke="#404040" stroke-width="5.4" stroke-linejoin="round"/>
<path d="M1073.3 2276.5L1089.1 2292.3L1073.3 2308.1L1057.5 2292.3Z" fill="#fff" stroke="#404040" stroke-width="5.4" stroke-linejoin="round"/>
<path d="M1320.2 2226.1L1336.0 2241.9L1320.2 2257.7L1304.4 2241.9Z" fill="#fff" stroke="#404040" stroke-width="5.4" stroke-linejoin="round"/>
<path d="M1369.6 2218.9L1385.4 2234.7L1369.6 2250.5L1353.8 2234.7Z" fill="#fff" stroke="#404040" stroke-width="5.4" stroke-linejoin="round"/>
<path d="M1419.0 2213.3L1434.8 2229.1L1419.0 2244.9L1403.2 2229.1Z" fill="#fff" stroke="#404040" stroke-width="5.4" stroke-linejoin="round"/>
<path d="M1468.4 2213.8L1484.2 2229.6L1468.4 2245.4L1452.6 2229.6Z" fill="#fff" stroke="#404040" stroke-width="5.4" stroke-linejoin="round"/>
<path d="M1517.8 2209.4L1533.6 2225.2L1517.8 2241.0L1502.0 2225.2Z" fill="#fff" stroke="#404040" stroke-width="5.4" stroke-linejoin="round"/>
<path d="M1567.1 2197.3L1582.9 2213.1L1567.1 2228.9L1551.3 2213.1Z" fill="#fff" stroke="#404040" stroke-width="5.4" stroke-linejoin="round"/>
<path d="M1616.5 2159.2L1632.3 2175.0L1616.5 2190.8L1600.7 2175.0Z" fill="#fff" stroke="#404040" stroke-width="5.4" stroke-linejoin="round"/>
<path d="M1665.9 2157.7L1681.7 2173.5L1665.9 2189.3L1650.1 2173.5Z" fill="#fff" stroke="#404040" stroke-width="5.4" stroke-linejoin="round"/>
<path d="M1715.3 2156.5L1731.1 2172.3L1715.3 2188.1L1699.5 2172.3Z" fill="#fff" stroke="#404040" stroke-width="5.4" stroke-linejoin="round"/>
<path d="M1764.7 2155.7L1780.5 2171.5L1764.7 2187.3L1748.9 2171.5Z" fill="#fff" stroke="#404040" stroke-width="5.4" stroke-linejoin="round"/>
<path d="M1814.1 2280.8L1829.9 2296.6L1814.1 2312.4L1798.3 2296.6Z" fill="#fff" stroke="#404040" stroke-width="5.4" stroke-linejoin="round"/>
<path d="M1863.5 2172.2L1879.3 2188.0L1863.5 2203.8L1847.7 2188.0Z" fill="#fff" stroke="#404040" stroke-width="5.4" stroke-linejoin="round"/>
<path d="M1912.8 2155.7L1928.6 2171.5L1912.8 2187.3L1897.0 2171.5Z" fill="#fff" stroke="#404040" stroke-width="5.4" stroke-linejoin="round"/>
<path d="M1962.2 2151.1L1978.0 2166.9L1962.2 2182.7L1946.4 2166.9Z" fill="#fff" stroke="#404040" stroke-width="5.4" stroke-linejoin="round"/>
<path d="M2011.6 2151.1L2027.4 2166.9L2011.6 2182.7L1995.8 2166.9Z" fill="#fff" stroke="#404040" stroke-width="5.4" stroke-linejoin="round"/>
</g>
<text x="426.5" y="1996.0" font-size="66.67" text-anchor="middle">40ºC</text>
<text x="430.0" y="2071.5" font-size="66.67" text-anchor="middle">0-2.5V</text>
<text x="676.5" y="2001.5" font-size="66.67" text-anchor="middle">70ºC</text>
<text x="680.0" y="2077.0" font-size="66.67" text-anchor="middle">0-3.2V</text>
<text x="931.5" y="2001.5" font-size="66.67" text-anchor="middle">70ºC</text>
<text x="935.0" y="2077.0" font-size="66.67" text-anchor="middle">0-3.2V</text>
<text x="1178.0" y="1997.2" font-size="66.67" text-anchor="middle">70ºC</text>
<text x="1181.2" y="2072.8" font-size="66.67" text-anchor="middle">3.2V</text>
<text x="1183.5" y="2152.2" font-size="66.67" text-anchor="middle">100h</text>
<text x="1440.0" y="1996.5" font-size="66.67" text-anchor="middle">70ºC</text>
<text x="1442.0" y="2070.5" font-size="66.67" text-anchor="middle">0-3.2V</text>
<text x="1691.0" y="1996.5" font-size="66.67" text-anchor="middle">70ºC</text>
<text x="1694.5" y="2070.5" font-size="66.67" text-anchor="middle">0-2.5V</text>
<text x="1930.5" y="1992.3" font-size="66.67" text-anchor="middle">40ºC</text>
<text x="1934.0" y="2066.3" font-size="66.67" text-anchor="middle">0-2.5V</text>
<text x="382.5" y="3282.0" font-size="100.00" text-anchor="start" font-weight="bold">(b)</text>
<text x="1198.4" y="3572.3" font-size="100.00" text-anchor="middle" font-weight="bold">Nº Cycles</text>
<text transform="translate(117.5 2651.2) rotate(-90) scale(1.011 1)" font-size="100.00" text-anchor="middle" font-weight="bold">Capacitance (F/g)</text>
<text transform="translate(2315.0 2604.2) rotate(-90) scale(1.011 1)" font-size="100.00" text-anchor="middle" font-weight="bold">Efficiency (%)</text>
</svg></body></html>
